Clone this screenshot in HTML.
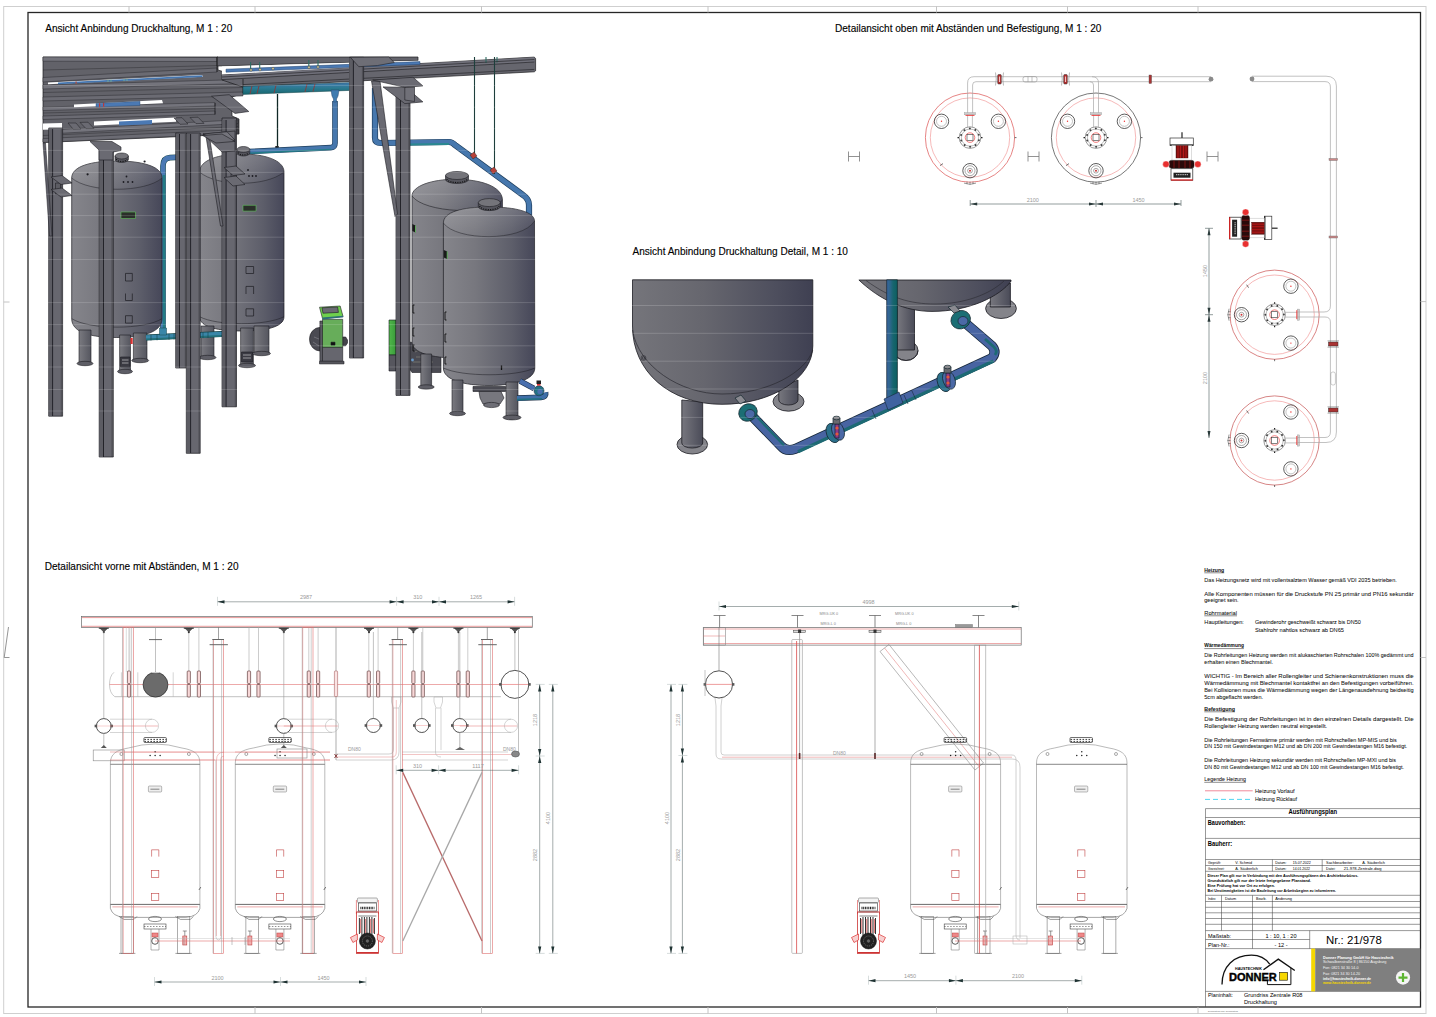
<!DOCTYPE html>
<html><head><meta charset="utf-8"><title>Druckhaltung</title>
<style>
html,body{margin:0;padding:0;background:#fff;}
body{width:1436px;height:1017px;overflow:hidden;font-family:"Liberation Sans",sans-serif;}
svg{position:absolute;left:0;top:0;display:block;}
svg text{font-family:"Liberation Sans",sans-serif;}
</style></head><body>
<svg width="1436" height="1017" viewBox="0 0 1436 1017">
<rect x="0" y="0" width="1436" height="1017" fill="#fff"/>
<!-- 00_defs -->
<defs>
<linearGradient id="gTank" x1="0" y1="0" x2="1" y2="0">
<stop offset="0" stop-color="#85858b"/>
<stop offset="0.35" stop-color="#77777e"/>
<stop offset="0.75" stop-color="#5d5e6a"/>
<stop offset="1" stop-color="#464759"/>
</linearGradient>
<linearGradient id="gTankD" x1="0" y1="0" x2="1" y2="0">
<stop offset="0" stop-color="#75757b"/>
<stop offset="0.4" stop-color="#66666e"/>
<stop offset="0.8" stop-color="#4d4e5d"/>
<stop offset="1" stop-color="#3f4052"/>
</linearGradient>
<linearGradient id="gLeg" x1="0" y1="0" x2="1" y2="0">
<stop offset="0" stop-color="#7a7a80"/>
<stop offset="1" stop-color="#55565f"/>
</linearGradient>
<linearGradient id="gGreen" x1="0" y1="0" x2="1" y2="0">
<stop offset="0" stop-color="#4fb84a"/>
<stop offset="1" stop-color="#3a9a3a"/>
</linearGradient>
</defs>

<!-- 10_frame -->
<g fill="none">
<rect x="3.7" y="6.5" width="1422.3" height="1007" stroke="#cfcfcf" stroke-width="1"/>
<rect x="28" y="12.5" width="1392.5" height="994.5" stroke="#262626" stroke-width="1.3"/>
<g stroke="#bdbdbd" stroke-width="0.9">
<path d="M129,6.5V12.5M255,6.5V12.5M481.5,6.5V12.5M708,6.5V12.5M936.5,6.5V12.5M1067.5,6.5V12.5M1198,6.5V12.5"/>
<path d="M255,1007V1013.5M481.5,1007V1013.5M708,1007V1013.5M936.5,1007V1013.5M1067.5,1007V1013.5M1198,1007V1013.5"/>
<path d="M3.7,302H9.5M1420.5,301.6H1426M1420.5,657.5H1426"/>
<path d="M8.5,627L4.2,657.5H9.5" stroke="#888"/>
</g>
</g>
<g font-size="10" fill="#000" stroke="#000" stroke-width="0.12">
<text x="45.3" y="32.4" textLength="187" lengthAdjust="spacingAndGlyphs">Ansicht Anbindung Druckhaltung, M 1 : 20</text>
<text x="835" y="32.4" textLength="266.3" lengthAdjust="spacingAndGlyphs">Detailansicht oben mit Abständen und Befestigung, M 1 : 20</text>
<text x="632.5" y="254.9" textLength="215.4" lengthAdjust="spacingAndGlyphs">Ansicht Anbindung Druckhaltung Detail, M 1 : 10</text>
<text x="44.7" y="570.2" textLength="193.8" lengthAdjust="spacingAndGlyphs">Detailansicht vorne mit Abständen, M 1 : 20</text>
</g>

<!-- 20_render3d -->
<g id="r3d" stroke-linejoin="round">
<!-- ===== back/top beam structure ===== -->
<g stroke="#1c1c20" stroke-width="0.7">
<!-- left block mass -->
<path fill="#626269" d="M43,57 L218,57 L218,70 L243,78 L244,93 L232,97 L232,116 L239,119 L239,134 L43,142.5 Z"/>
<path fill="#74747c" stroke-width="0.4" d="M43,57 L217,57.5 L217,61.5 L43,61.2 Z M43,85 L243,79.5 L243,83.5 L43,89 Z M43,107 L215,102.6 L215,106 L43,110.5 Z M62,129.4 L238,119.8 L238,123.6 L62,133.2 Z"/>
<path fill="#6b6b73" stroke-width="0.4" d="M43,77.5 L217,68 L217,72 L43,82 Z M43,97 L243,92 L243,96 L43,101 Z M43,116 L215,111 L215,114.3 L43,119.5 Z M43,138.6 L238,129.6 L238,133.4 L43,142.4 Z"/>
<!-- back long beam L -->
<path fill="#64646c" d="M217,57 L418,57 L418,60.5 L217,66 Z"/>
<!-- long beam B -->
<path fill="#66666e" d="M222,74.7 L534.3,57.1 L535.6,58.6 L535.6,70.8 L534.3,71.8 L243,87 L222,80 Z"/>
<path fill="#70707a" stroke="none" d="M222,74.9 L534.3,57.3 L534.3,62 L222,79.5 Z"/>
</g>
<!-- white gap between L and B with pipe -->
<path fill="#fff" d="M222,66.4 L418,60.8 L418,63.6 L222,74.4 Z"/>
<path fill="#4b79b4" stroke="#24446c" stroke-width="0.5" d="M226,72.2 L226,69.2 L420,61.6 L420,64.4 Z"/>
<g stroke="#2f6d64" stroke-width="1.1" fill="none">
<path d="M250.6,62V69M259.7,62V68.6M308.8,60V66.5M318,60V66.1M486,57V63M497,57V62.6"/>
</g>
<g fill="#c9c49a" stroke="#333" stroke-width="0.4"><circle cx="251" cy="70" r="1.3"/><circle cx="260" cy="69.6" r="1.3"/><circle cx="309" cy="67.4" r="1.3"/><circle cx="318" cy="67" r="1.3"/><circle cx="273" cy="68.6" r="1.3"/></g>
<!-- slits in left block -->
<path fill="#fff" d="M48,82.4 L202,74.9 L203,76.8 L48,84.3 Z"/>
<path fill="#4576b0" d="M58,82.6 L202,75.3 L202.6,76.9 L58,84.2 Z"/><path stroke="#7fbf8f" stroke-width="0.7" d="M108,79.6v2.4M111,79.5v2.4M124,78.8v2.4M127,78.6v2.4"/><path fill="#b84a3a" d="M75.5,81.6h1.2v2.2h-1.2z"/>
<path fill="#fff" d="M74,104.4 L162,100.1 L163,103.2 L74,107.2 Z"/>
<path fill="#4b79b4" stroke="#24446c" stroke-width="0.4" d="M96,103.4 L140,101.3 L140,105.4 L96,107Z"/>
<path fill="#b83a3a" d="M99,103.2h1.2v4h-1.2zM103,103h1.2v4h-1.2z"/>
<path fill="#fff" d="M94,121.6 L176,117.6 L176,121.8 L94,125.4 Z"/>
<path fill="#fff" d="M43,123.6 L62,123 L62,129.2 L43,129.8 Z"/>
<path fill="#4b79b4" d="M119,121.6 L152,120 L152,124.2 L119,125.4 Z"/>
<path fill="#6a6a72" stroke="#1c1c20" stroke-width="0.5" d="M68,123 L76,123 L81,129 L73,129Z M80,122.4 L88,122.2 L94,128.5 L86,128.6Z M174,118 L182,117.7 L188,124 L180,124.3Z M190,117.5 L198,117.2 L204,123.4 L196,123.6Z"/>
<!-- beam edge lines in left block -->
<g stroke="#1c1c20" stroke-width="0.6" fill="none">
<path d="M43,70 L217,65.5 M43,92.5 L243,87.5 M43,113 L215,108.5 M43,135.5 L238,126.5" stroke-opacity="0.6"/>
<path d="M217,57 V72 M243,79 V93 M215,103 V114.5 M238,119.5 V133.5" stroke-width="0.8"/>
<path d="M222,77 L534.3,59.5 M222,79.6 L534.3,62 M243,84.6 L534.3,69.4"/>
</g>
<!-- ===== pipes behind tanks ===== -->
<!-- teal horizontal under beam B -->
<defs><linearGradient id="gTealH" x1="0" y1="0" x2="0" y2="1"><stop offset="0" stop-color="#4279ae"/><stop offset="0.45" stop-color="#2c7a92"/><stop offset="1" stop-color="#17676e"/></linearGradient></defs>
<path fill="url(#gTealH)" stroke="#17454a" stroke-width="0.5" d="M243,86.4 L350,82.6 L350,90.4 L243,94.4 Z"/>
<g stroke="#8a3a3a" stroke-width="0.9" fill="none"><path d="M252,86 L250,94 M259,85.8 L257,93.8 M276,85.2 L274,93.2 M307,84 L305,92 M315,83.8 L313,91.6"/></g>
<!-- hanger rod -->
<path d="M277.5,94 V150" stroke="#102826" stroke-width="1.3"/><path d="M275.3,146 h3.4 v6 h-3.4z" fill="#222"/>
<!-- blue pipe from tank2 to vertical -->
<path fill="none" stroke="#1f3f5e" stroke-width="5.6" stroke-linejoin="round" d="M248,151.6 L331,147.6 Q335,147.4 335,143 V101"/>
<path fill="none" stroke="#4677ad" stroke-width="4.3" stroke-linejoin="round" d="M248,151.6 L331,147.6 Q335,147.4 335,143 V101"/>
<path fill="none" stroke="#237c86" stroke-width="1.3" d="M250,153.2 L331,149.3"/>
<path fill="#3f7bb0" stroke="#24446c" stroke-width="0.5" d="M331,90 h8 l-1,6 l-1.5,3 v3 h-3 v-3 l-1.5,-3 z"/>
<!-- teal pipe vertical at tank1 right + top elbow -->
<path fill="none" stroke="#17454a" stroke-width="5.6" d="M163,334 V166 Q163,158 170,157.6 L200,156.3"/>
<path fill="none" stroke="#4b79b4" stroke-width="4.6" d="M163,334 V166 Q163,158 170,157.6 L200,156.3"/>
<path fill="none" stroke="#237c86" stroke-width="2.6" d="M164,334 V175"/>
<!-- right pipe: vertical near col A, horizontal, diagonal -->
<path fill="none" stroke="#1f3f5e" stroke-width="6.2" stroke-linejoin="round" d="M375,88 V138 Q375,143 381,143 L449,142 Q452,142 455,145 L523,195 Q529,199 529,205 V222"/>
<path fill="none" stroke="#4677ad" stroke-width="4.8" stroke-linejoin="round" d="M375,88 V138 Q375,143 381,143 L449,142 Q452,142 455,145 L523,195 Q529,199 529,205 V222"/>
<path fill="none" stroke="#2a8890" stroke-width="2" d="M410,144.5 L449,144"/>
<g stroke="#1d3f3c" stroke-width="1.1"><path d="M474.5,57 V158 M494.5,57 V174"/></g>
<g fill="#b8423a" stroke="#222" stroke-width="0.4"><path d="M470,155 l4,-3 l3,4 l-4,3z M490,170 l4,-3 l3,4 l-4,3z"/></g>
<path fill="#4a4a52" stroke="#1c1c22" stroke-width="0.6" d="M409,342 L436,346 L441,356 L441,372.5 L412,372.5 L409,368 Z"/>
<path fill="none" stroke="#8a8a80" stroke-width="0.6" d="M415,352 q3,-3 6,0 M416,357 h8 M413,362 h20"/>
<circle cx="412.5" cy="360" r="1.4" fill="#6a9ac8"/>
<!-- ===== tank T3 (back right) ===== -->
<g stroke="#1c1c22" stroke-width="0.7">
<path fill="url(#gTank)" d="M412,196 C412,186 432,179.3 455,179.3 C482,179.3 502.4,187 502.4,200 L502.4,342 C502.4,353 482,358 457,358 C432,358 412,353 412,342 Z"/>
<path fill="none" d="M412,196 C424,213 490,216 502.4,200" stroke-width="0.6"/>

<!-- tank T4 (front right) -->
<path fill="url(#gTank)" d="M443.4,223 C443.4,212 462,207 489,207 C516,207 534.5,212 534.5,221 L534.8,368 C534.8,380 514,385.5 489,385.5 C464,385.5 443.4,380 443.4,368 Z"/>
<path fill="none" d="M443.4,223 C456,241 522,242 534.5,221 M443.4,368 C462,377 516,377 534.8,368" stroke-width="0.5"/>

</g>
<g fill="none" stroke="#111" stroke-width="0.9"><path d="M414.5,305 h-1.5 v8 h1.5 M414.5,328 h-1.5 v8 h1.5 M414.5,345 h-1.5 v6 h1.5 M446.5,312 h-1.5 v8 h1.5 M446.5,334 h-1.5 v8 h1.5 M446.5,357 h-1.5 v7 h1.5"/></g>
<path d="M501.5,365.5 v4.5" stroke="#111" stroke-width="1.3" fill="none"/>
<path d="M412.3,224 l3.2,1.5 v7 l-3.2,-1.5z M443.8,250 l3.4,1.5 v7.5 l-3.4,-1.5z" fill="#1a1a1a" stroke="none"/>
<path d="M415.5,225.5 v7 M447.2,251.5 v7.5" stroke="#5fc25a" stroke-width="0.8" fill="none"/>
<!-- ===== tank T2 ===== -->
<g stroke="#1c1c22" stroke-width="0.7">
<path fill="url(#gTank)" d="M199.6,172 C199.6,160 219,154 241.8,154 C264,154 284,160 284,172 L284,316.7 C284,327.5 264,331 241.8,331 C219,331 199.6,327.5 199.6,316.7 Z"/>
<path fill="none" d="M199.6,172 C217,187 266,187 284,172 M199.6,316.7 C217,326 266,326 284,316.7" stroke-width="0.5"/>
<!-- tank T1 -->
<path fill="url(#gTank)" d="M71.7,178 C71.7,166 92,161 116.8,161 C141,161 162,166 162,178 L162,318.6 C162,333 141,337.5 116.8,337.5 C92,337.5 71.7,333 71.7,318.6 Z"/>
<path fill="none" d="M71.7,178 C89,193 145,193 162,178 M71.7,318.6 C89,330 145,330 162,318.6" stroke-width="0.5"/>
</g>
<defs><linearGradient id="gDome" x1="0" y1="0" x2="0" y2="1"><stop offset="0" stop-color="#fff" stop-opacity="0.16"/><stop offset="1" stop-color="#fff" stop-opacity="0.02"/></linearGradient></defs>
<g fill="url(#gDome)">
<path d="M71.7,178 C71.7,166 92,161 116.8,161 C141,161 162,166 162,178 C145,193 89,193 71.7,178 Z"/>
<path d="M199.6,172 C199.6,160 219,154 241.8,154 C264,154 284,160 284,172 C266,187 217,187 199.6,172 Z"/>
<path d="M412,196 C412,186 432,179.3 455,179.3 C482,179.3 502.4,187 502.4,200 C490,216 424,213 412,196 Z"/>
<path d="M443.4,223 C443.4,212 462,207 489,207 C516,207 534.5,212 534.5,221 C522,242 456,241 443.4,223 Z"/>
</g>
<!-- manholes -->
<g fill="#66666e" stroke="#1c1c22" stroke-width="0.6">
<path d="M115.0,156 v3.5 a6.7,3 0 0 0 13.4,0 v-3.5" fill="#55555d"/><ellipse cx="121.7" cy="156" rx="6.7" ry="3" fill="#74747a"/><path d="M116.5,159.0 a5.2,2.5 0 0 0 10.4,0" fill="none" stroke="#111" stroke-width="1.2" stroke-dasharray="1 1.3"/><path d="M237.0,149.5 v3.5 a6.4,3 0 0 0 12.8,0 v-3.5" fill="#55555d"/><ellipse cx="243.4" cy="149.5" rx="6.4" ry="3" fill="#74747a"/><path d="M238.5,152.5 a4.9,2.5 0 0 0 9.8,0" fill="none" stroke="#111" stroke-width="1.2" stroke-dasharray="1 1.3"/><path d="M445.5,175.5 v4 a11.5,4 0 0 0 23.0,0 v-4" fill="#55555d"/><ellipse cx="457" cy="175.5" rx="11.5" ry="4" fill="#74747a"/><path d="M447.0,179.0 a10.0,3.5 0 0 0 20.0,0" fill="none" stroke="#111" stroke-width="1.2" stroke-dasharray="1 1.3"/><path d="M478.3,202.6 v4 a11,4 0 0 0 22,0 v-4" fill="#55555d"/><ellipse cx="489.3" cy="202.6" rx="11" ry="4" fill="#74747a"/><path d="M479.8,206.1 a9.5,3.5 0 0 0 19,0" fill="none" stroke="#111" stroke-width="1.2" stroke-dasharray="1 1.3"/>
</g>
<!-- tank labels & hatches -->
<g fill="#2a2f2a" stroke="#5fc25a" stroke-width="0.6">
<rect x="121" y="212" width="14.5" height="6.5"/><rect x="243" y="205.3" width="13" height="5.8"/>
</g>
<g fill="none" stroke="#1c1c22" stroke-width="0.7">
<rect x="125.5" y="273.4" width="6.8" height="7.6"/><path d="M125.5,293.5 v7 h6.8 v-7"/><rect x="125.5" y="315.7" width="6.8" height="7.4"/>
<rect x="246" y="266.5" width="7.6" height="7"/><path d="M246,294 v-7.6 h7.6 v7.6"/><rect x="246" y="308.8" width="7.6" height="7.2"/>
</g>
<g fill="#1c1c22"><circle cx="123.5" cy="182" r="0.9"/><circle cx="128" cy="182" r="0.9"/><circle cx="132.5" cy="182" r="0.9"/><circle cx="126.5" cy="176.5" r="0.9"/><circle cx="87.6" cy="174.3" r="1.1"/><circle cx="144.6" cy="161.5" r="1.1"/>
<circle cx="249" cy="176" r="0.9"/><circle cx="252.5" cy="176" r="0.9"/><circle cx="256" cy="176" r="0.9"/><circle cx="248" cy="170" r="0.9"/></g>
<!-- ===== tank legs ===== -->
<g stroke="#1c1c22" stroke-width="0.6">
<g fill="url(#gLeg)">
<rect x="79" y="330" width="12" height="33"/><rect x="119.6" y="335" width="10.9" height="36"/><rect x="133.4" y="333" width="13.6" height="27"/>
<rect x="201" y="326" width="13" height="31"/><rect x="240.6" y="328" width="12.8" height="37"/><rect x="254" y="326" width="15" height="27"/>
<rect x="420.8" y="354" width="10.8" height="33"/>
<rect x="452" y="380" width="11" height="33"/><rect x="506" y="382" width="12" height="35"/>
</g>
<g fill="#5e5e66">
<ellipse cx="85" cy="363.5" rx="8" ry="2.2"/><ellipse cx="125" cy="371.5" rx="7.5" ry="2.2"/><ellipse cx="140.2" cy="360.5" rx="8.5" ry="2.2"/>
<ellipse cx="207.5" cy="357.5" rx="8.5" ry="2.2"/><ellipse cx="247" cy="365.5" rx="8.5" ry="2.2"/><ellipse cx="261.5" cy="353.5" rx="9" ry="2.2"/>
<ellipse cx="426.2" cy="387" rx="8" ry="2.2"/><ellipse cx="457.5" cy="413.5" rx="8" ry="2.2"/><ellipse cx="512" cy="417.5" rx="9" ry="2.4"/>
</g>
<path fill="#4a4a52" d="M473,386.5 h32.5 v5 h-32.5z"/><path fill="#77777e" d="M479,391.5 L501,391.5 L504,398 L500,404 L483,404 L480,398 Z"/><ellipse cx="491.5" cy="405" rx="8" ry="2.6" fill="#6e6e76"/>
<path fill="#3a3a42" d="M120.5,357 h9.5 v10 h-9.5z M241.5,352 h11 v10 h-11z"/><path stroke="#ddd" stroke-width="0.6" d="M122,360h6.5M122,363h6.5M243,355h8M243,358h8"/>
</g>
<!-- bottom teal/blue pipes -->
<path fill="none" stroke="#17454a" stroke-width="6" d="M146,337.6 L232,333.6"/>
<path fill="none" stroke="#3a86a8" stroke-width="4.8" d="M146,337.6 L232,333.6"/>
<path fill="none" stroke="#23707a" stroke-width="1.6" d="M146,339.4 L232,335.4"/>
<path fill="none" stroke="#17454a" stroke-width="0.6" d="M151,334.6v6M157,334.4v6M169,333.8v6M174,333.6v6M203,332.2v6M208,332v6"/>
<path fill="#3a86a8" stroke="#17454a" stroke-width="0.5" d="M159.5,328 h7 v7 h-7z"/>
<path fill="none" stroke="#1c2e44" stroke-width="5.6" stroke-linejoin="round" d="M520,381 L534,388.5"/>
<path fill="none" stroke="#4a6fae" stroke-width="4.4" d="M520,381 L534,388.5"/>
<path fill="none" stroke="#1c2e44" stroke-width="5.8" stroke-linejoin="round" d="M517,398.2 L541,397.3 Q546.5,397 545.5,392.5"/>
<path fill="none" stroke="#3f6fa8" stroke-width="4.5" stroke-linejoin="round" d="M517,398.2 L541,397.3 Q546.5,397 545.5,392.5"/>
<path fill="none" stroke="#217080" stroke-width="1.6" d="M517,399.6 L542,398.8"/>
<circle cx="539" cy="390.8" r="5" fill="#237284" stroke="#1c2e44" stroke-width="0.6"/>
<circle cx="540" cy="391.5" r="2.6" fill="#4a6fae"/>
<rect x="536.5" y="380.5" width="4.5" height="3.5" fill="#222"/><rect x="537" y="384" width="3.5" height="1.6" fill="#d33"/>
<rect x="130.5" y="338" width="2.2" height="6" fill="#d33"/>
<!-- ===== pumps ===== -->
<g stroke="#1c1c22" stroke-width="0.6">
<path fill="#4a4a52" d="M320,327.4 A10.5,11.8 0 0 0 320,351 Z"/>
<path fill="none" stroke="#8a8a90" stroke-width="0.6" d="M313,342 l6,4 M314,337 l5,2"/>
<path fill="#44444a" d="M342.7,337 h3 l1.8,3 v3 l-1.8,2.8 h-3z"/>
<path fill="#5a5a62" d="M319.9,321 h2.6 v40.3 h-2.6z"/>
<path fill="#66666e" d="M322.5,347.3 h20.2 v14 h-20.2z"/>
<path fill="#55555c" d="M319.5,361.3 h24.5 v2.6 h-24.5z"/>
<path fill="#67ad5a" d="M322.5,319.3 h20.2 v28 h-20.2z"/>
<path fill="#6fd04e" d="M319.5,307.2 L340.2,306 L343.1,316.7 L322.5,318.6 Z"/>
<path fill="#2d6f78" stroke="none" d="M322.5,317.6 L343.1,315.8 L343.1,317.2 L322.5,319.4 Z"/>
<path fill="#6a6a72" d="M322,307.8 L337.6,307 L338.4,312.4 L323,313.2 Z"/>
<path fill="#111" d="M331,342.2 h4 v2.9 h-4z"/>
<path fill="url(#gGreen)" d="M389,320 h7 v35 h-7z"/>
<path fill="#56565e" d="M389,355 h7 v16 h-7z"/>
</g>
<!-- ===== columns ===== -->
<g stroke="#1c1c22" stroke-width="0.7">
<g fill="#67676f">
<rect x="48.7" y="128" width="13.9" height="288.2"/>
<rect x="99.2" y="150" width="14.1" height="307"/>
<rect x="175.7" y="133" width="10.8" height="235"/>
<rect x="186.3" y="133" width="13.9" height="320.3"/>
<rect x="222" y="118" width="14.5" height="288.8"/>
<rect x="349.5" y="57.3" width="14.1" height="300.7"/>
<rect x="396" y="90" width="14" height="305.4"/>
</g>
<g fill="#5c5c63" stroke="none">
<rect x="49" y="129" width="3.6" height="287"/><rect x="99.5" y="152" width="4" height="305"/><rect x="176" y="134" width="3.5" height="234"/><rect x="186.6" y="134" width="4" height="319"/><rect x="222.3" y="120" width="3.8" height="286.5"/><rect x="349.2" y="58" width="4.2" height="300"/><rect x="396.3" y="92" width="4.2" height="303"/>
</g>
<g fill="none" stroke-width="0.9">
<path d="M52.6,129V416M103.5,152V457M179.5,134V368M190.6,134V453M226.1,120V406.8M353.4,58V358M400.5,92V395"/>
</g>
<g fill="none" stroke-width="0.5" stroke-opacity="0.7">
<path d="M61.3,129V416M112,152V457M185.3,134V368M199,134V453M235.3,120V406.8M362.4,58V358M408.8,92V395"/>
</g>
</g>
<!-- far-left thin diagonal -->
<path fill="#5f5f68" stroke="#1c1c22" stroke-width="0.5" d="M43,143 L45.5,143 L52,236 L49.5,236 Z"/>
<!-- brackets -->
<g fill="#6a6a72" stroke="#1c1c22" stroke-width="0.6">
<path d="M55.5,183 h5 v11 h-5z" fill="#5c5c63"/><path d="M51,177 L62,175.5 L72,183 L61,184.5 Z"/><path d="M51,189.5 L62,188 L72,195.5 L61,197 Z"/>
<path d="M90,141.5 L112,141.5 L121,147 L121,150.5 L113,152 L113,160 L99,160 L99,150 Z"/>
<path d="M206,136.5 L209.5,136.5 L223,226 L220.5,226 Z"/>
<path d="M203,134 L235,131 L235,151 L222,152 Z"/><path d="M203,134 L227,131.8 L235,140 L222,141.5 Z" fill="#74747c"/>
<path d="M231,174 h4 v10 h-4z" fill="#5c5c63"/><path d="M224,167.5 L236,166 L245,174 L233,175.5 Z"/><path d="M224,177.5 L236,176 L245,184.5 L233,186 Z"/>
<path d="M371.5,81 L380,81 L397.5,214 L395,216.5 Z"/>
<path d="M383,86.9 L404.8,87.3 L414.5,94.6 L415.2,95.3 L422.9,101.9 L404.8,103.6 Z"/>
<path d="M404.8,87.3 L414.5,87 L414.5,101.5 L404.8,100 Z" fill="#707078"/>
<path d="M372.7,80 L413,77.3 L422.9,85.9 L404.8,87.3 Z"/>
</g>
<path fill="#6e6e76" stroke="#1c1c22" stroke-width="0.6" d="M350.4,57.3 L388.7,57 L394.3,62.5 L377.6,65.5 L358.8,66.7 Z"/>
<path fill="#6a6a72" stroke="#1c1c22" stroke-width="0.6" d="M211.5,96.2 L229.2,94.7 L248.8,111.5 L235,113.4 Z"/>
<path fill="#6a6a72" stroke="#1c1c22" stroke-width="0.6" d="M202.6,135.5 L222,134 L235,141.4 L216,143 Z"/>
<!-- ===== grid light lines ===== -->
<g stroke="#ffffff" stroke-opacity="0.2" stroke-width="0.8">
<path d="M43,85.5H560M43,107.2H560M43,128.7H560M43,150.4H560M43,172.4H560M43,194.2H560M43,215.6H560M43,237.2H560M43,259.5H560M43,302.6H560M43,324.6H560M43,345.8H560M43,367H560M43,389.5H560M43,411H560"/>
</g>
</g>

<!-- 30_detail3d -->
<g id="d3d" stroke-linejoin="round">
<defs>
<linearGradient id="gPipeV" x1="0" y1="0" x2="1" y2="0"><stop offset="0" stop-color="#3a64a0"/><stop offset="0.35" stop-color="#2a6688"/><stop offset="0.6" stop-color="#17656e"/><stop offset="1" stop-color="#0d5f60"/></linearGradient>
<linearGradient id="gLegD" x1="0" y1="0" x2="1" y2="0"><stop offset="0" stop-color="#77777e"/><stop offset="1" stop-color="#4a4b58"/></linearGradient>
</defs>
<!-- right tank legs (behind) -->
<g stroke="#1c1c22" stroke-width="0.8">
<ellipse cx="1001" cy="308.5" rx="15.4" ry="10" fill="#84848a"/>
<rect x="990.3" y="283" width="20.1" height="24" fill="url(#gLegD)"/>
<ellipse cx="906" cy="350.5" rx="12" ry="10" fill="#84848a"/>
<rect x="897.4" y="300" width="17.1" height="50" fill="url(#gLegD)"/>
<path d="M894,350.5 A12,10 0 0 0 918,350.5" fill="none"/>
</g>
<!-- right tank bottom -->
<path fill="url(#gTankD)" stroke="#1c1c22" stroke-width="0.8" d="M858.9,280 H1011 V281.2 C1000,296 970,311.4 932,311.4 C905,311.4 880,300 858.9,280 Z"/>
<path fill="none" stroke="#2a2a30" stroke-width="0.6" d="M866,280.5 C890,298 910,304 935,304 C965,304 990,294 1004,281"/>
<!-- left tank legs -->
<g stroke="#1c1c22" stroke-width="0.8">
<ellipse cx="788.5" cy="401.5" rx="15.5" ry="9.7" fill="#84848a"/>
<path d="M778.8,388 V400 A9.6,5 0 0 0 798,400 V380 Z" fill="url(#gLegD)"/>
<ellipse cx="692.3" cy="444.5" rx="15.3" ry="9.5" fill="#84848a"/>
<path d="M681.8,400 V443 A10.45,5 0 0 0 702.7,443 V402 Z" fill="url(#gLegD)"/>
</g>
<!-- left tank -->
<path fill="url(#gTankD)" stroke="#1c1c22" stroke-width="0.8" d="M632.5,279.8 H812.8 V346 C812.8,378 772,404.3 722,404.3 C670,404.3 632.5,372 632.5,326 Z"/>
<path fill="none" stroke="#2a2a30" stroke-width="0.7" d="M632.5,330 C638,366 680,394 722,394 C768,394 806,372 812.8,350"/>
<g fill="none" stroke="#2a2a30" stroke-width="0.6"><circle cx="643.5" cy="358" r="2.4"/><circle cx="643.5" cy="358" r="1.2"/></g>
<!-- vertical pipe -->
<rect x="886.7" y="279.8" width="10.7" height="126" fill="url(#gPipeV)" stroke="#14262e" stroke-width="0.7"/>
<!-- pipe run -->
<g fill="none" stroke-linecap="butt">
<path d="M750,414 L781,446 Q786,452 795,449 L992,358 Q997,352 992,346 L963,321" stroke="#16283a" stroke-width="10"/>
<path d="M750,414 L781,446 Q786,452 795,449 L992,358 Q997,352 992,346 L963,321" stroke="#4864a2" stroke-width="8.4"/>
<path d="M798,451.8 L993.5,361" stroke="#1d6a74" stroke-width="3.4"/>
<path d="M995,355 Q998,351 994,347 L985,339" stroke="#1d6a74" stroke-width="2.8"/>
<path d="M756,416 L784,445.5" stroke="#1d6a74" stroke-width="2.2"/>
</g>
<!-- tee at vertical pipe -->
<path fill="#3f62a0" stroke="#16283a" stroke-width="0.6" d="M884,399 L899,392 L903,403 L888,410 Z"/>
<g stroke="#16283a" stroke-width="0.6" fill="none"><path d="M872,410 L876,419 M904,395 L908,404 M912,391 L916,400"/></g>
<!-- flanges -->
<g stroke="#14262e" stroke-width="0.7">
<ellipse cx="748" cy="412.5" rx="9.5" ry="8.5" fill="#1b6e74" transform="rotate(-30 748 412.5)"/>
<ellipse cx="750" cy="414" rx="5" ry="4.5" fill="#4b69a6"/>
<path d="M740,404 l-5,-6 l6,-3 l5,6z" fill="#8a8a90"/>
<ellipse cx="960.7" cy="319.7" rx="10" ry="9" fill="#1b6e74" transform="rotate(-30 960.7 319.7)"/>
<ellipse cx="963" cy="321" rx="5" ry="4.5" fill="#4b69a6"/>
<path d="M954,313 l-6,-6 l7,-2 l5,6z" fill="#8a8a90"/>
</g>
<!-- valves -->
<g stroke="#14262e" stroke-width="0.7">
<ellipse cx="833" cy="433" rx="6.5" ry="10" fill="#2a6f8a" transform="rotate(-20 833 433)"/>
<ellipse cx="838" cy="431" rx="6" ry="9.5" fill="#4b69a6" transform="rotate(-20 838 431)"/>
<rect x="835" y="424" width="4" height="14" fill="#8a3a8a"/>
<circle cx="837" cy="428" r="1.6" fill="#e05a3a" stroke="none"/><circle cx="837" cy="434" r="1.6" fill="#e05a3a" stroke="none"/>
<rect x="833" y="418" width="7" height="6" fill="#6a6a70"/><ellipse cx="836.5" cy="418" rx="3.5" ry="1.8" fill="#8a8a8e"/>
<ellipse cx="944" cy="382" rx="6.5" ry="10" fill="#2a6f8a" transform="rotate(-20 944 382)"/>
<ellipse cx="949" cy="380" rx="6" ry="9.5" fill="#4b69a6" transform="rotate(-20 949 380)"/>
<rect x="946" y="373" width="4" height="14" fill="#8a3a8a"/>
<circle cx="948" cy="377" r="1.6" fill="#e05a3a" stroke="none"/><circle cx="948" cy="383" r="1.6" fill="#e05a3a" stroke="none"/>
<rect x="944" y="367" width="7" height="6" fill="#6a6a70"/><ellipse cx="947.5" cy="367" rx="3.5" ry="1.8" fill="#8a8a8e"/>
</g>
<!-- grid lines -->
<g stroke="#ffffff" stroke-opacity="0.22" stroke-width="0.8">
<path d="M632,305.5H1015M632,333.3H1015M632,361.2H1015M632,389H1015M632,417.4H1015M632,445.3H1015"/>
</g>
</g>

<!-- 40_plan -->
<g id="plan">
<g transform="translate(970 137.6) rotate(0)" fill="none">
<circle r="44.6" stroke="#e06464" stroke-width="0.8"/>
<circle r="39.7" stroke="#f08a8a" stroke-width="0.6"/>
<circle cx="-28.5" cy="-16.3" r="7.2" stroke="#333" stroke-width="0.8"/>
<circle cx="-28.5" cy="-16.3" r="5" stroke="#888" stroke-width="0.5"/>
<circle cx="-28.5" cy="-16.3" r="0.7" fill="#e33" stroke="none"/>
<circle cx="28.4" cy="-16.3" r="7.2" stroke="#333" stroke-width="0.8"/>
<circle cx="28.4" cy="-16.3" r="5" stroke="#888" stroke-width="0.5"/>
<circle cx="28.4" cy="-16.3" r="0.7" fill="#e33" stroke="none"/>
<circle r="10.8" stroke="#555" stroke-width="0.6"/>
<circle cx="8.79" cy="2.72" r="1" fill="#333" stroke="none"/>
<circle cx="5.51" cy="7.37" r="1" fill="#333" stroke="none"/>
<circle cx="0.13" cy="9.20" r="1" fill="#333" stroke="none"/>
<circle cx="-5.30" cy="7.52" r="1" fill="#333" stroke="none"/>
<circle cx="-8.71" cy="2.97" r="1" fill="#333" stroke="none"/>
<circle cx="-8.79" cy="-2.72" r="1" fill="#333" stroke="none"/>
<circle cx="-5.51" cy="-7.37" r="1" fill="#333" stroke="none"/>
<circle cx="-0.13" cy="-9.20" r="1" fill="#333" stroke="none"/>
<circle cx="5.30" cy="-7.52" r="1" fill="#333" stroke="none"/>
<circle cx="8.71" cy="-2.97" r="1" fill="#333" stroke="none"/>
<circle r="8.6" stroke="#777" stroke-width="0.5"/>
<circle r="4.8" stroke="#e44" stroke-width="0.7"/>
<rect x="-3" y="-3" width="6" height="6" stroke="#333" stroke-width="0.6"/>
<path d="M-12.5,0h1.5M11,0h1.5" stroke="#222" stroke-width="1.2"/>
<path d="M-2.4,-10.5V-23.6M2.4,-10.5V-23.6" stroke="#999" stroke-width="0.6"/>
<rect x="-5.6" y="-25" width="11.2" height="2.2" fill="#ccc" stroke="#999" stroke-width="0.4"/>
<path d="M-4.5,-22.2H4.5" stroke="#e33" stroke-width="0.9"/>
<circle cy="33.1" r="7.2" stroke="#333" stroke-width="0.8"/>
<circle cy="33.1" r="5" stroke="#555" stroke-width="0.5"/>
<circle cy="33.1" r="2.4" stroke="#555" stroke-width="0.5"/>
<circle cy="33.1" r="1" fill="#c33" stroke="none"/>
<path d="M-6,45.5 Q0,48 6,45.5 M-3,44v2.5M0,44v3M3,44v2.5" stroke="#555" stroke-width="0.6"/>
<path d="M-27,26 l-3,2 M44.5,0 h2" stroke="#333" stroke-width="0.7"/>
</g>
<g transform="translate(1096 137.6) rotate(0)" fill="none">
<circle r="44.6" stroke="#555" stroke-width="0.8"/>
<circle r="39.7" stroke="#f08a8a" stroke-width="0.6"/>
<circle cx="-28.5" cy="-16.3" r="7.2" stroke="#333" stroke-width="0.8"/>
<circle cx="-28.5" cy="-16.3" r="5" stroke="#888" stroke-width="0.5"/>
<circle cx="-28.5" cy="-16.3" r="0.7" fill="#e33" stroke="none"/>
<circle cx="28.4" cy="-16.3" r="7.2" stroke="#333" stroke-width="0.8"/>
<circle cx="28.4" cy="-16.3" r="5" stroke="#888" stroke-width="0.5"/>
<circle cx="28.4" cy="-16.3" r="0.7" fill="#e33" stroke="none"/>
<circle r="10.8" stroke="#555" stroke-width="0.6"/>
<circle cx="8.79" cy="2.72" r="1" fill="#333" stroke="none"/>
<circle cx="5.51" cy="7.37" r="1" fill="#333" stroke="none"/>
<circle cx="0.13" cy="9.20" r="1" fill="#333" stroke="none"/>
<circle cx="-5.30" cy="7.52" r="1" fill="#333" stroke="none"/>
<circle cx="-8.71" cy="2.97" r="1" fill="#333" stroke="none"/>
<circle cx="-8.79" cy="-2.72" r="1" fill="#333" stroke="none"/>
<circle cx="-5.51" cy="-7.37" r="1" fill="#333" stroke="none"/>
<circle cx="-0.13" cy="-9.20" r="1" fill="#333" stroke="none"/>
<circle cx="5.30" cy="-7.52" r="1" fill="#333" stroke="none"/>
<circle cx="8.71" cy="-2.97" r="1" fill="#333" stroke="none"/>
<circle r="8.6" stroke="#777" stroke-width="0.5"/>
<circle r="4.8" stroke="#e44" stroke-width="0.7"/>
<rect x="-3" y="-3" width="6" height="6" stroke="#333" stroke-width="0.6"/>
<path d="M-12.5,0h1.5M11,0h1.5" stroke="#222" stroke-width="1.2"/>
<path d="M-2.4,-10.5V-23.6M2.4,-10.5V-23.6" stroke="#999" stroke-width="0.6"/>
<rect x="-5.6" y="-25" width="11.2" height="2.2" fill="#ccc" stroke="#999" stroke-width="0.4"/>
<path d="M-4.5,-22.2H4.5" stroke="#e33" stroke-width="0.9"/>
<circle cy="33.1" r="7.2" stroke="#333" stroke-width="0.8"/>
<circle cy="33.1" r="5" stroke="#555" stroke-width="0.5"/>
<circle cy="33.1" r="2.4" stroke="#555" stroke-width="0.5"/>
<circle cy="33.1" r="1" fill="#c33" stroke="none"/>
<path d="M-6,45.5 Q0,48 6,45.5 M-3,44v2.5M0,44v3M3,44v2.5" stroke="#555" stroke-width="0.6"/>
<path d="M-27,26 l-3,2 M44.5,0 h2" stroke="#333" stroke-width="0.7"/>
</g>
<g transform="translate(1274.6 314.7) rotate(90)" fill="none">
<circle r="44.6" stroke="#d06464" stroke-width="0.8"/>
<circle r="39.7" stroke="#f08a8a" stroke-width="0.6"/>
<circle cx="-28.5" cy="-16.3" r="7.2" stroke="#333" stroke-width="0.8"/>
<circle cx="-28.5" cy="-16.3" r="5" stroke="#888" stroke-width="0.5"/>
<circle cx="-28.5" cy="-16.3" r="0.7" fill="#e33" stroke="none"/>
<circle cx="28.4" cy="-16.3" r="7.2" stroke="#333" stroke-width="0.8"/>
<circle cx="28.4" cy="-16.3" r="5" stroke="#888" stroke-width="0.5"/>
<circle cx="28.4" cy="-16.3" r="0.7" fill="#e33" stroke="none"/>
<circle r="10.8" stroke="#555" stroke-width="0.6"/>
<circle cx="8.79" cy="2.72" r="1" fill="#333" stroke="none"/>
<circle cx="5.51" cy="7.37" r="1" fill="#333" stroke="none"/>
<circle cx="0.13" cy="9.20" r="1" fill="#333" stroke="none"/>
<circle cx="-5.30" cy="7.52" r="1" fill="#333" stroke="none"/>
<circle cx="-8.71" cy="2.97" r="1" fill="#333" stroke="none"/>
<circle cx="-8.79" cy="-2.72" r="1" fill="#333" stroke="none"/>
<circle cx="-5.51" cy="-7.37" r="1" fill="#333" stroke="none"/>
<circle cx="-0.13" cy="-9.20" r="1" fill="#333" stroke="none"/>
<circle cx="5.30" cy="-7.52" r="1" fill="#333" stroke="none"/>
<circle cx="8.71" cy="-2.97" r="1" fill="#333" stroke="none"/>
<circle r="8.6" stroke="#777" stroke-width="0.5"/>
<circle r="4.8" stroke="#e44" stroke-width="0.7"/>
<rect x="-3" y="-3" width="6" height="6" stroke="#333" stroke-width="0.6"/>
<path d="M-12.5,0h1.5M11,0h1.5" stroke="#222" stroke-width="1.2"/>
<path d="M-2.4,-10.5V-23.6M2.4,-10.5V-23.6" stroke="#999" stroke-width="0.6"/>
<rect x="-5.6" y="-25" width="11.2" height="2.2" fill="#ccc" stroke="#999" stroke-width="0.4"/>
<path d="M-4.5,-22.2H4.5" stroke="#e33" stroke-width="0.9"/>
<circle cy="33.1" r="7.2" stroke="#333" stroke-width="0.8"/>
<circle cy="33.1" r="5" stroke="#555" stroke-width="0.5"/>
<circle cy="33.1" r="2.4" stroke="#555" stroke-width="0.5"/>
<circle cy="33.1" r="1" fill="#c33" stroke="none"/>
<path d="M-6,45.5 Q0,48 6,45.5 M-3,44v2.5M0,44v3M3,44v2.5" stroke="#555" stroke-width="0.6"/>
<path d="M-27,26 l-3,2 M44.5,0 h2" stroke="#333" stroke-width="0.7"/>
</g>
<g transform="translate(1274.6 440.5) rotate(90)" fill="none">
<circle r="44.6" stroke="#c66" stroke-width="0.8"/>
<circle r="39.7" stroke="#f08a8a" stroke-width="0.6"/>
<circle cx="-28.5" cy="-16.3" r="7.2" stroke="#333" stroke-width="0.8"/>
<circle cx="-28.5" cy="-16.3" r="5" stroke="#888" stroke-width="0.5"/>
<circle cx="-28.5" cy="-16.3" r="0.7" fill="#e33" stroke="none"/>
<circle cx="28.4" cy="-16.3" r="7.2" stroke="#333" stroke-width="0.8"/>
<circle cx="28.4" cy="-16.3" r="5" stroke="#888" stroke-width="0.5"/>
<circle cx="28.4" cy="-16.3" r="0.7" fill="#e33" stroke="none"/>
<circle r="10.8" stroke="#555" stroke-width="0.6"/>
<circle cx="8.79" cy="2.72" r="1" fill="#333" stroke="none"/>
<circle cx="5.51" cy="7.37" r="1" fill="#333" stroke="none"/>
<circle cx="0.13" cy="9.20" r="1" fill="#333" stroke="none"/>
<circle cx="-5.30" cy="7.52" r="1" fill="#333" stroke="none"/>
<circle cx="-8.71" cy="2.97" r="1" fill="#333" stroke="none"/>
<circle cx="-8.79" cy="-2.72" r="1" fill="#333" stroke="none"/>
<circle cx="-5.51" cy="-7.37" r="1" fill="#333" stroke="none"/>
<circle cx="-0.13" cy="-9.20" r="1" fill="#333" stroke="none"/>
<circle cx="5.30" cy="-7.52" r="1" fill="#333" stroke="none"/>
<circle cx="8.71" cy="-2.97" r="1" fill="#333" stroke="none"/>
<circle r="8.6" stroke="#777" stroke-width="0.5"/>
<circle r="4.8" stroke="#e44" stroke-width="0.7"/>
<rect x="-3" y="-3" width="6" height="6" stroke="#333" stroke-width="0.6"/>
<path d="M-12.5,0h1.5M11,0h1.5" stroke="#222" stroke-width="1.2"/>
<path d="M-2.4,-10.5V-23.6M2.4,-10.5V-23.6" stroke="#999" stroke-width="0.6"/>
<rect x="-5.6" y="-25" width="11.2" height="2.2" fill="#ccc" stroke="#999" stroke-width="0.4"/>
<path d="M-4.5,-22.2H4.5" stroke="#e33" stroke-width="0.9"/>
<circle cy="33.1" r="7.2" stroke="#333" stroke-width="0.8"/>
<circle cy="33.1" r="5" stroke="#555" stroke-width="0.5"/>
<circle cy="33.1" r="2.4" stroke="#555" stroke-width="0.5"/>
<circle cy="33.1" r="1" fill="#c33" stroke="none"/>
<path d="M-6,45.5 Q0,48 6,45.5 M-3,44v2.5M0,44v3M3,44v2.5" stroke="#555" stroke-width="0.6"/>
<path d="M-27,26 l-3,2 M44.5,0 h2" stroke="#333" stroke-width="0.7"/>
</g>
<g fill="none" stroke="#a8a8a8" stroke-width="0.7">
<path d="M967.6,113 V83 Q967.6,76.7 974,76.7 H1211"/>
<path d="M972.6,113 V85 Q972.6,81.7 976,81.7 H1211"/>
<path d="M1093.5,113 V85 Q1093.5,81.7 1090,81.7"/>
<path d="M1098.5,113 V83 Q1098.5,76.7 1092,76.7"/>
<path d="M1252,76.2 H1326 Q1336.4,76.2 1336.4,86 V432 Q1336.4,442.5 1326,442.5 H1298"/>
<path d="M1252,81.6 H1325 Q1330.4,81.6 1330.4,87 V306 Q1330.4,312 1324,312 H1298"/>
<path d="M1298,317 H1325 Q1330.4,317 1330.4,322 V432 Q1330.4,437.5 1325,437.5 H1298"/>
</g>
<g fill="#8a8a8a"><circle cx="1211" cy="79.2" r="2.4"/><circle cx="1252" cy="79" r="2.4"/></g>
<g stroke="#333" stroke-width="0.5">
<rect x="997.7" y="74.5" width="3.6" height="9.5" rx="1" fill="#b02a2a" stroke="#333" stroke-width="0.5"/>
<path d="M998.9,76.5h1.2v5.5h-1.2z" fill="#f4c0c0" stroke="none"/>
<path d="M995.5,72.5 Q997.0,79 995.5,85.5 M1003.5,72.5 Q1002.0,79 1003.5,85.5" fill="none" stroke="#888" stroke-width="0.6"/>
<rect x="1063.7" y="74.5" width="3.6" height="9.5" rx="1" fill="#b02a2a" stroke="#333" stroke-width="0.5"/>
<path d="M1064.9,76.5h1.2v5.5h-1.2z" fill="#f4c0c0" stroke="none"/>
<path d="M1061.5,72.5 Q1063.0,79 1061.5,85.5 M1069.5,72.5 Q1068.0,79 1069.5,85.5" fill="none" stroke="#888" stroke-width="0.6"/>
<rect x="1149" y="75" width="2.6" height="8.5" fill="#a33" stroke="#555" stroke-width="0.4"/>
<rect x="1329" y="158.5" width="8.5" height="2" fill="#c88" stroke="#666" stroke-width="0.4"/>
<rect x="1329" y="236" width="8.5" height="2" fill="#c88" stroke="#666" stroke-width="0.4"/>
<rect x="1328.5" y="342" width="9.5" height="4" fill="#a33"/>
<path d="M1327.5,340.8h11.5M1327.5,347.2h11.5" stroke="#666" stroke-width="0.5"/>
<rect x="1328.5" y="408" width="9.5" height="4" fill="#a33"/>
<path d="M1327.5,406.8h11.5M1327.5,413.2h11.5" stroke="#666" stroke-width="0.5"/>
<rect x="1330.8" y="372" width="4.6" height="13" rx="2" fill="none" stroke="#999" stroke-width="0.5"/>
</g>
<g fill="none" stroke="#999" stroke-width="0.6"><rect x="1023" y="76.5" width="14" height="5.5" rx="2"/><path d="M1028,76.5v5.5M1032,76.5v5.5"/></g>
<path d="M848.5,151.5v10M859.5,151.5v10M848.5,156.5h11" stroke="#777" stroke-width="0.8" fill="none"/>
<path d="M1028,151.5v10M1039,151.5v10M1028,156.5h11" stroke="#777" stroke-width="0.8" fill="none"/>
<path d="M1207,151.5v10M1218,151.5v10M1207,156.5h11" stroke="#777" stroke-width="0.8" fill="none"/>
<g transform="translate(1182 164.2) rotate(0)">
<path d="M0,-32V-26.2" stroke="#222" stroke-width="1.2"/>
<rect x="-12" y="-26.2" width="23.3" height="7.4" fill="#fff" stroke="#333" stroke-width="0.7"/>
<path d="M-12,-19.2H11.3" stroke="#222" stroke-width="1.3"/>
<rect x="-10" y="-18.6" width="19.6" height="14.6" fill="#fff" stroke="#bbb" stroke-width="0.5"/>
<rect x="-6" y="-18.6" width="12" height="12.4" fill="#7a1010" stroke="#300" stroke-width="0.4"/>
<path d="M-4,-18.6v12.4M-1.5,-18.6v12.4M1.5,-18.6v12.4M4,-18.6v12.4" stroke="#e22" stroke-width="0.5"/>
<rect x="-12.8" y="-3.8" width="24.8" height="7.6" rx="2" fill="#2a0a0a" stroke="#111" stroke-width="0.5"/>
<path d="M-8,-3.8v7.6M-3,-3.8v7.6M3,-3.8v7.6M8,-3.8v7.6" stroke="#c22" stroke-width="0.5"/>
<circle cx="-16" cy="0" r="3.3" fill="#e83030" stroke="#fff" stroke-width="0.4"/><circle cx="15.8" cy="0" r="3.3" fill="#e83030" stroke="#fff" stroke-width="0.4"/>
<rect x="-11" y="4.5" width="21.8" height="11.5" fill="#fff" stroke="#222" stroke-width="0.7"/>
<path d="M-11,15.8H10.8" stroke="#e11" stroke-width="1.1"/>
<rect x="-8.5" y="8.5" width="17" height="5" fill="#222"/>
<path d="M-6,10.5h12" stroke="#fff" stroke-width="0.8" stroke-dasharray="1.2 0.6"/>
</g>
<g transform="translate(1245.6 228.2) rotate(90)">
<path d="M0,-32V-26.2" stroke="#222" stroke-width="1.2"/>
<rect x="-12" y="-26.2" width="23.3" height="7.4" fill="#fff" stroke="#333" stroke-width="0.7"/>
<path d="M-12,-19.2H11.3" stroke="#222" stroke-width="1.3"/>
<rect x="-10" y="-18.6" width="19.6" height="14.6" fill="#fff" stroke="#bbb" stroke-width="0.5"/>
<rect x="-6" y="-18.6" width="12" height="12.4" fill="#7a1010" stroke="#300" stroke-width="0.4"/>
<path d="M-4,-18.6v12.4M-1.5,-18.6v12.4M1.5,-18.6v12.4M4,-18.6v12.4" stroke="#e22" stroke-width="0.5"/>
<rect x="-12.8" y="-3.8" width="24.8" height="7.6" rx="2" fill="#2a0a0a" stroke="#111" stroke-width="0.5"/>
<path d="M-8,-3.8v7.6M-3,-3.8v7.6M3,-3.8v7.6M8,-3.8v7.6" stroke="#c22" stroke-width="0.5"/>
<circle cx="-16" cy="0" r="3.3" fill="#e83030" stroke="#fff" stroke-width="0.4"/><circle cx="15.8" cy="0" r="3.3" fill="#e83030" stroke="#fff" stroke-width="0.4"/>
<rect x="-11" y="4.5" width="21.8" height="11.5" fill="#fff" stroke="#222" stroke-width="0.7"/>
<path d="M-11,15.8H10.8" stroke="#e11" stroke-width="1.1"/>
<rect x="-8.5" y="8.5" width="17" height="5" fill="#222"/>
<path d="M-6,10.5h12" stroke="#fff" stroke-width="0.8" stroke-dasharray="1.2 0.6"/>
</g>
<g stroke="#4a5a5a" stroke-width="0.6" fill="none">
<path d="M970.2,204 H1181 M970.2,200 V206 M1096,200 V207 M1181,200 V206"/>
<path d="M1209,228.3 V438 M1205,228.3 H1213 M1205,314.7 H1213"/>
</g>
<g fill="#2a3a3a">
<path d="M970.2,204 l7,-1.5 v3z M1096,204 l-7,-1.5 v3z M1096,204 l7,-1.5 v3z M1181,204 l-7,-1.5 v3z"/>
<path d="M1209,228.3 l-1.5,7 h3z M1209,314.7 l-1.5,-7 h3z M1209,314.7 l-1.5,7 h3z M1209,438 l-1.5,-7 h3z"/>
</g>
<g fill="#999" font-size="5.5">
<text x="1032.8" y="201.5" text-anchor="middle">2100</text>
<text x="1138.5" y="201.5" text-anchor="middle">1450</text>
<text transform="translate(1206.5 271) rotate(-90)" text-anchor="middle">1450</text>
<text transform="translate(1206.5 378) rotate(-90)" text-anchor="middle">2100</text>
</g>
</g>
<!-- 50_elev1 -->
<g id="elev1" fill="none">
<rect x="81.5" y="616.5" width="450.8" height="10.9" fill="#fff" stroke="#6a6a6a" stroke-width="0.7"/>
<path d="M82,617.6L532,617.6" stroke="#e07070" stroke-width="0.7"/>
<path d="M82,626.3L532,626.3" stroke="#e07070" stroke-width="0.7"/>
<path d="M217.5,601.8H514.6" stroke="#4a5a5a" stroke-width="0.5"/>
<path d="M217.5,596.8V605.8" stroke="#9aa" stroke-width="0.4"/>
<path d="M514.6,596.8V605.8" stroke="#9aa" stroke-width="0.4"/>
<path d="M396.6,596.8V605.8" stroke="#9aa" stroke-width="0.4"/>
<path d="M439,596.8V605.8" stroke="#9aa" stroke-width="0.4"/>
<path d="M217.5,601.8l7,-1.6v3.2zM396.6,601.8l-7,-1.6v3.2z" fill="#1e3232"/>
<path d="M396.6,601.8l7,-1.6v3.2zM439,601.8l-7,-1.6v3.2z" fill="#1e3232"/>
<path d="M439,601.8l7,-1.6v3.2zM514.6,601.8l-7,-1.6v3.2z" fill="#1e3232"/>
<text x="306" y="599.3" font-size="5.5" fill="#999" text-anchor="middle">2987</text>
<text x="417.8" y="599.3" font-size="5.5" fill="#999" text-anchor="middle">310</text>
<text x="476" y="599.3" font-size="5.5" fill="#999" text-anchor="middle">1265</text>
<path d="M114,672.3 Q109.5,676 109.5,684.5 Q109.5,693 114.8,696.7" stroke="#aaa" stroke-width="0.6"/>
<path d="M114.8,696.7L500.9,696.7" stroke="#999" stroke-width="0.6"/>
<path d="M109.5,684.5L528.9,684.5" stroke="#e07070" stroke-width="0.6"/>
<path d="M121.4,672.3L121.4,696.7" stroke="#aaa" stroke-width="0.5"/>
<path d="M137.8,672.3L137.8,696.7" stroke="#aaa" stroke-width="0.5"/>
<path d="M173.2,672.3L173.2,696.7" stroke="#aaa" stroke-width="0.5"/>
<path d="M468,672.3L468,696.7" stroke="#aaa" stroke-width="0.5"/>
<circle cx="155.5" cy="684.7" r="12.4" fill="#6b6b6b" stroke="#333" stroke-width="0.8"/>
<path d="M155.5,627.4L155.5,672.3" stroke="#999" stroke-width="0.6"/>
<path d="M149,639.6h13" stroke="#555" stroke-width="0.9"/>
<path d="M152,672.5h7" stroke="#ccc" stroke-width="1"/>
<circle cx="514.9" cy="684.4" r="14" fill="none" stroke="#333" stroke-width="0.85"/><rect x="499.09999999999997" y="683.1" width="2.6" height="2.6" fill="#555"/><rect x="528.1" y="683.1" width="2.6" height="2.6" fill="#555"/><path d="M501.9,684.4H527.9" stroke="#f2a0a0" stroke-width="0.5"/>
<path d="M514.9,627.4L514.9,670.4" stroke="#999" stroke-width="0.6"/>
<path d="M518.5,627.4L518.5,752" stroke="#999" stroke-width="0.6"/>
<path d="M129,627.4L129,671" stroke="#aaa" stroke-width="0.6"/>
<rect x="127.4" y="671" width="3.2" height="12.5" rx="0.8" fill="#f8d8d8" stroke="#5a3535" stroke-width="0.65"/>
<rect x="127.4" y="684.5" width="3.2" height="12.5" rx="0.8" fill="#f8d8d8" stroke="#5a3535" stroke-width="0.65"/>
<path d="M188.8,627.4L188.8,671" stroke="#aaa" stroke-width="0.6"/>
<rect x="187.20000000000002" y="671" width="3.2" height="12.5" rx="0.8" fill="#f8d8d8" stroke="#5a3535" stroke-width="0.65"/>
<rect x="187.20000000000002" y="684.5" width="3.2" height="12.5" rx="0.8" fill="#f8d8d8" stroke="#5a3535" stroke-width="0.65"/>
<path d="M198.9,627.4L198.9,671" stroke="#aaa" stroke-width="0.6"/>
<rect x="197.3" y="671" width="3.2" height="12.5" rx="0.8" fill="#f8d8d8" stroke="#5a3535" stroke-width="0.65"/>
<rect x="197.3" y="684.5" width="3.2" height="12.5" rx="0.8" fill="#f8d8d8" stroke="#5a3535" stroke-width="0.65"/>
<path d="M249,627.4L249,671" stroke="#aaa" stroke-width="0.6"/>
<rect x="247.4" y="671" width="3.2" height="12.5" rx="0.8" fill="#f8d8d8" stroke="#5a3535" stroke-width="0.65"/>
<rect x="247.4" y="684.5" width="3.2" height="12.5" rx="0.8" fill="#f8d8d8" stroke="#5a3535" stroke-width="0.65"/>
<path d="M258.5,627.4L258.5,671" stroke="#aaa" stroke-width="0.6"/>
<rect x="256.9" y="671" width="3.2" height="12.5" rx="0.8" fill="#f8d8d8" stroke="#5a3535" stroke-width="0.65"/>
<rect x="256.9" y="684.5" width="3.2" height="12.5" rx="0.8" fill="#f8d8d8" stroke="#5a3535" stroke-width="0.65"/>
<path d="M308.8,627.4L308.8,671" stroke="#aaa" stroke-width="0.6"/>
<rect x="307.2" y="671" width="3.2" height="12.5" rx="0.8" fill="#f8d8d8" stroke="#5a3535" stroke-width="0.65"/>
<rect x="307.2" y="684.5" width="3.2" height="12.5" rx="0.8" fill="#f8d8d8" stroke="#5a3535" stroke-width="0.65"/>
<path d="M318.1,627.4L318.1,671" stroke="#aaa" stroke-width="0.6"/>
<rect x="316.5" y="671" width="3.2" height="12.5" rx="0.8" fill="#f8d8d8" stroke="#5a3535" stroke-width="0.65"/>
<rect x="316.5" y="684.5" width="3.2" height="12.5" rx="0.8" fill="#f8d8d8" stroke="#5a3535" stroke-width="0.65"/>
<path d="M368.8,627.4L368.8,671" stroke="#aaa" stroke-width="0.6"/>
<rect x="367.2" y="671" width="3.2" height="12.5" rx="0.8" fill="#f8d8d8" stroke="#5a3535" stroke-width="0.65"/>
<rect x="367.2" y="684.5" width="3.2" height="12.5" rx="0.8" fill="#f8d8d8" stroke="#5a3535" stroke-width="0.65"/>
<path d="M378.1,627.4L378.1,671" stroke="#aaa" stroke-width="0.6"/>
<rect x="376.5" y="671" width="3.2" height="12.5" rx="0.8" fill="#f8d8d8" stroke="#5a3535" stroke-width="0.65"/>
<rect x="376.5" y="684.5" width="3.2" height="12.5" rx="0.8" fill="#f8d8d8" stroke="#5a3535" stroke-width="0.65"/>
<path d="M413.4,627.4L413.4,671" stroke="#aaa" stroke-width="0.6"/>
<rect x="411.79999999999995" y="671" width="3.2" height="12.5" rx="0.8" fill="#f8d8d8" stroke="#5a3535" stroke-width="0.65"/>
<rect x="411.79999999999995" y="684.5" width="3.2" height="12.5" rx="0.8" fill="#f8d8d8" stroke="#5a3535" stroke-width="0.65"/>
<path d="M422.8,627.4L422.8,671" stroke="#aaa" stroke-width="0.6"/>
<rect x="421.2" y="671" width="3.2" height="12.5" rx="0.8" fill="#f8d8d8" stroke="#5a3535" stroke-width="0.65"/>
<rect x="421.2" y="684.5" width="3.2" height="12.5" rx="0.8" fill="#f8d8d8" stroke="#5a3535" stroke-width="0.65"/>
<path d="M458.4,627.4L458.4,671" stroke="#aaa" stroke-width="0.6"/>
<rect x="456.79999999999995" y="671" width="3.2" height="12.5" rx="0.8" fill="#f8d8d8" stroke="#5a3535" stroke-width="0.65"/>
<rect x="456.79999999999995" y="684.5" width="3.2" height="12.5" rx="0.8" fill="#f8d8d8" stroke="#5a3535" stroke-width="0.65"/>
<path d="M467.8,627.4L467.8,671" stroke="#aaa" stroke-width="0.6"/>
<rect x="466.2" y="671" width="3.2" height="12.5" rx="0.8" fill="#f8d8d8" stroke="#5a3535" stroke-width="0.65"/>
<rect x="466.2" y="684.5" width="3.2" height="12.5" rx="0.8" fill="#f8d8d8" stroke="#5a3535" stroke-width="0.65"/>
<path d="M336,627.4L336,760" stroke="#777" stroke-width="0.6"/>
<rect x="334.4" y="671" width="3.2" height="25.5" rx="0.8" fill="#fbe3e3" stroke="#9a4a4a" stroke-width="0.5"/>
<path d="M334.5,754l3,4M337.5,754l-3,4" stroke="#7a2a2a" stroke-width="0.9"/>
<path d="M98.8,628.2h10" stroke="#333" stroke-width="1.1" fill="none"/><path d="M100.3,628.6l3.5,3.4l3.5,-3.4z" fill="#555" stroke="#222" stroke-width="0.5"/><circle cx="103.8" cy="632.3" r="1" fill="#333"/>
<path d="M183.8,628.2h10" stroke="#333" stroke-width="1.1" fill="none"/><path d="M185.3,628.6l3.5,3.4l3.5,-3.4z" fill="#555" stroke="#222" stroke-width="0.5"/><circle cx="188.8" cy="632.3" r="1" fill="#333"/>
<path d="M278.8,628.2h10" stroke="#333" stroke-width="1.1" fill="none"/><path d="M280.3,628.6l3.5,3.4l3.5,-3.4z" fill="#555" stroke="#222" stroke-width="0.5"/><circle cx="283.8" cy="632.3" r="1" fill="#333"/>
<path d="M364,628.2h10" stroke="#333" stroke-width="1.1" fill="none"/><path d="M365.5,628.6l3.5,3.4l3.5,-3.4z" fill="#555" stroke="#222" stroke-width="0.5"/><circle cx="369" cy="632.3" r="1" fill="#333"/>
<path d="M408.4,628.2h10" stroke="#333" stroke-width="1.1" fill="none"/><path d="M409.9,628.6l3.5,3.4l3.5,-3.4z" fill="#555" stroke="#222" stroke-width="0.5"/><circle cx="413.4" cy="632.3" r="1" fill="#333"/>
<path d="M453.4,628.2h10" stroke="#333" stroke-width="1.1" fill="none"/><path d="M454.9,628.6l3.5,3.4l3.5,-3.4z" fill="#555" stroke="#222" stroke-width="0.5"/><circle cx="458.4" cy="632.3" r="1" fill="#333"/>
<path d="M509.9,628.2h10" stroke="#333" stroke-width="1.1" fill="none"/><path d="M511.4,628.6l3.5,3.4l3.5,-3.4z" fill="#555" stroke="#222" stroke-width="0.5"/><circle cx="514.9" cy="632.3" r="1" fill="#333"/>
<path d="M103.8,632L103.8,718.6" stroke="#999" stroke-width="0.6"/>
<circle cx="103.8" cy="726" r="7.4" fill="none" stroke="#333" stroke-width="0.85"/><rect x="94.6" y="724.7" width="2.6" height="2.6" fill="#555"/><rect x="110.4" y="724.7" width="2.6" height="2.6" fill="#555"/><path d="M97.39999999999999,726H110.2" stroke="#f2a0a0" stroke-width="0.5"/>
<path d="M103.8,733.4L103.8,746" stroke="#999" stroke-width="0.6"/>
<path d="M100.8,748h6l-3,-3z" fill="#555"/>
<path d="M283.8,632L283.8,718.6" stroke="#999" stroke-width="0.6"/>
<circle cx="283.8" cy="726" r="7.4" fill="none" stroke="#333" stroke-width="0.85"/><rect x="274.6" y="724.7" width="2.6" height="2.6" fill="#555"/><rect x="290.4" y="724.7" width="2.6" height="2.6" fill="#555"/><path d="M277.40000000000003,726H290.2" stroke="#f2a0a0" stroke-width="0.5"/>
<path d="M283.8,733.4L283.8,746" stroke="#999" stroke-width="0.6"/>
<path d="M280.8,748h6l-3,-3z" fill="#555"/>
<path d="M373.4,632L373.4,718.6" stroke="#999" stroke-width="0.6"/>
<circle cx="373.4" cy="725.5" r="7" fill="none" stroke="#333" stroke-width="0.85"/><rect x="364.59999999999997" y="724.2" width="2.6" height="2.6" fill="#555"/><rect x="379.59999999999997" y="724.2" width="2.6" height="2.6" fill="#555"/><path d="M367.4,725.5H379.4" stroke="#f2a0a0" stroke-width="0.5"/>
<path d="M421.8,632L421.8,718.6" stroke="#999" stroke-width="0.6"/>
<circle cx="421.8" cy="725.5" r="7" fill="none" stroke="#333" stroke-width="0.85"/><rect x="413.0" y="724.2" width="2.6" height="2.6" fill="#555"/><rect x="428.0" y="724.2" width="2.6" height="2.6" fill="#555"/><path d="M415.8,725.5H427.8" stroke="#f2a0a0" stroke-width="0.5"/>
<path d="M459.8,632L459.8,718.6" stroke="#999" stroke-width="0.6"/>
<circle cx="459.8" cy="725.5" r="7" fill="none" stroke="#333" stroke-width="0.85"/><rect x="451.0" y="724.2" width="2.6" height="2.6" fill="#555"/><rect x="466.0" y="724.2" width="2.6" height="2.6" fill="#555"/><path d="M453.8,725.5H465.8" stroke="#f2a0a0" stroke-width="0.5"/>
<path d="M459.8,732.5L459.8,748" stroke="#888" stroke-width="0.6"/>
<path d="M455,750h10l-5,-3z" fill="#666"/>
<path d="M110,719.2L152,719.2" stroke="#aaa" stroke-width="0.5"/>
<path d="M110,732.5L152,732.5" stroke="#aaa" stroke-width="0.5"/>
<path d="M110,726L158,726" stroke="#e07070" stroke-width="0.5"/>
<circle cx="152" cy="725.8" r="6.6" stroke="#aaa" stroke-width="0.5"/>
<path d="M283.8,719.2L332,719.2" stroke="#aaa" stroke-width="0.5"/>
<path d="M283.8,732.5L332,732.5" stroke="#aaa" stroke-width="0.5"/>
<path d="M283.8,726L338,726" stroke="#e07070" stroke-width="0.5"/>
<circle cx="332" cy="725.8" r="6.6" stroke="#aaa" stroke-width="0.5"/>
<path d="M459.8,719.2L511,719.2" stroke="#aaa" stroke-width="0.5"/>
<path d="M459.8,732.5L511,732.5" stroke="#aaa" stroke-width="0.5"/>
<path d="M459.8,726L517,726" stroke="#e07070" stroke-width="0.5"/>
<circle cx="511" cy="725.8" r="6.6" stroke="#aaa" stroke-width="0.5"/>
<rect x="93.2" y="750" width="31" height="10.8" stroke="#888" stroke-width="0.6"/>
<path d="M124,752.2 H330 M124,760 H330" stroke="#e58a8a" stroke-width="0.5"/>
<path d="M224,752.2 Q216.5,752.2 216.5,760 V936 M224,756 Q220.5,756 220.5,760 V936" stroke="#e58a8a" stroke-width="0.5"/>
<path d="M215.8,760 V936 Q215.8,940 218.5,940 Q221.2,940 221.2,936 V760" stroke="#aaa" stroke-width="0.5"/>
<path d="M336,754 H389 Q393.5,754 393.5,749 V708 M336,760 H391 Q399,760 399,752 V708" stroke="#aaa" stroke-width="0.55"/>
<path d="M336,757 H392 Q396.3,757 396.3,752 V700" stroke="#e58a8a" stroke-width="0.5"/>
<path d="M402,752 H508 M402,760 H508" stroke="#aaa" stroke-width="0.5"/>
<path d="M402,754.5 H515" stroke="#e58a8a" stroke-width="0.5"/>
<path d="M435.5,708 V752 Q435.5,757 441,757 M441,708 V750" stroke="#aaa" stroke-width="0.5"/>
<path d="M434,697 h8.5 v5 l-2,6 h-4.5 l-2,-6z" stroke="#aaa" stroke-width="0.5"/>
<path d="M391.5,697 h9.5 v5 l-2,6 h-5.5 l-2,-6z" stroke="#aaa" stroke-width="0.5"/>
<path d="M515.5,754 m-4,0 a4,3 0 1 0 8,0 a4,3 0 1 0 -8,0" fill="#888" stroke="#444" stroke-width="0.5"/>
<text x="348" y="751" font-size="5" fill="#999">DN80</text><text x="503" y="751" font-size="5" fill="#999">DN80</text>
<path d="M110.4,904.4 V763 C110.4,754 116.4,750 128.4,748 Q155.15,740 181.9,748 C193.9,750 199.9,754 199.9,763 V904.4" fill="none" stroke="#8c8c8c" stroke-width="0.6"/>
<path d="M110.4,764.3L199.9,764.3" stroke="#555" stroke-width="0.7"/>
<path d="M110.4,904.4L199.9,904.4" stroke="#444" stroke-width="0.8"/>
<path d="M112.4,906.9L197.9,906.9" stroke="#e07070" stroke-width="0.6"/>
<path d="M110.4,904.4 V908.4 Q112.4,916.4 124.4,917.4 H185.9 Q197.9,916.4 199.9,908.4 V904.4" fill="none" stroke="#6a6a6a" stroke-width="0.6"/>
<rect x="143.9" y="737.5" width="22.5" height="5" rx="1" fill="none" stroke="#333" stroke-width="0.7"/>
<path d="M144.4,739.4H166.4M144.4,741.4H166.4" stroke="#222" stroke-width="0.9" stroke-dasharray="1.6 1.4"/>
<rect x="148.4" y="786" width="13.3" height="6" rx="1" fill="#eee" stroke="#777" stroke-width="0.5"/>
<path d="M150.4,789.2h9" stroke="#777" stroke-width="0.9"/>
<path d="M151.60000000000002,856.6 V849.8 H158.8 V856.6" fill="none" stroke="#c04040" stroke-width="0.6"/>
<rect x="151.60000000000002" y="870.4" width="7.2" height="7.2" fill="none" stroke="#c04040" stroke-width="0.6"/>
<rect x="151.60000000000002" y="893.5" width="7.2" height="7" fill="none" stroke="#c04040" stroke-width="0.6"/>
<circle cx="150.15" cy="755.4" r="0.75" fill="#222"/>
<circle cx="155.15" cy="755.4" r="0.75" fill="#222"/>
<circle cx="160.15" cy="755.4" r="0.75" fill="#222"/>
<circle cx="155.15" cy="751.8" r="0.75" fill="#222"/>
<circle cx="121.4" cy="754" r="1.5" fill="none" stroke="#555" stroke-width="0.5"/>
<circle cx="188.9" cy="754" r="1.5" fill="none" stroke="#555" stroke-width="0.5"/>
<path d="M198.9,890 l2,-3" stroke="#555" stroke-width="0.8"/>
<rect x="121.0" y="916.4" width="12.4" height="37.0" fill="none" stroke="#777" stroke-width="0.6"/>
<path d="M119.0,916.4l5,3h10l3,-3" fill="none" stroke="#555" stroke-width="0.6"/>
<path d="M119.0,953.4L135.4,953.4" stroke="#666" stroke-width="0.6"/>
<rect x="177.4" y="916.4" width="12.4" height="37.0" fill="none" stroke="#777" stroke-width="0.6"/>
<path d="M175.4,916.4l5,3h10l3,-3" fill="none" stroke="#555" stroke-width="0.6"/>
<path d="M175.4,953.4L191.8,953.4" stroke="#666" stroke-width="0.6"/>
<ellipse cx="155.0" cy="919" rx="6.5" ry="2.6" fill="none" stroke="#444" stroke-width="0.6"/>
<rect x="144.0" y="924" width="22" height="5" fill="none" stroke="#444" stroke-width="0.6"/>
<path d="M144.0,926.5H166.0" stroke="#444" stroke-width="0.6" stroke-dasharray="1.5 1.5"/>
<path d="M151.0,929 V950 H159.0 V929" fill="none" stroke="#666" stroke-width="0.5"/>
<rect x="152.0" y="933" width="6" height="4" fill="#e88" stroke="#c04040" stroke-width="0.5"/>
<circle cx="155.0" cy="941" r="3.3" fill="#fff" stroke="#333" stroke-width="0.8"/>
<rect x="182.8" y="936" width="4" height="9" fill="#f2b0b0" stroke="#c04040" stroke-width="0.6"/>
<path d="M184.8,931V936M182.8,931h4" stroke="#555" stroke-width="0.6"/>
<path d="M235.3,904.4 V763 C235.3,754 241.3,750 253.3,748 Q280.05,740 306.8,748 C318.8,750 324.8,754 324.8,763 V904.4" fill="none" stroke="#8c8c8c" stroke-width="0.6"/>
<path d="M235.3,764.3L324.8,764.3" stroke="#555" stroke-width="0.7"/>
<path d="M235.3,904.4L324.8,904.4" stroke="#444" stroke-width="0.8"/>
<path d="M237.3,906.9L322.8,906.9" stroke="#e07070" stroke-width="0.6"/>
<path d="M235.3,904.4 V908.4 Q237.3,916.4 249.3,917.4 H310.8 Q322.8,916.4 324.8,908.4 V904.4" fill="none" stroke="#6a6a6a" stroke-width="0.6"/>
<rect x="268.8" y="737.5" width="22.5" height="5" rx="1" fill="none" stroke="#333" stroke-width="0.7"/>
<path d="M269.3,739.4H291.3M269.3,741.4H291.3" stroke="#222" stroke-width="0.9" stroke-dasharray="1.6 1.4"/>
<rect x="273.3" y="786" width="13.3" height="6" rx="1" fill="#eee" stroke="#777" stroke-width="0.5"/>
<path d="M275.3,789.2h9" stroke="#777" stroke-width="0.9"/>
<path d="M276.5,856.6 V849.8 H283.7 V856.6" fill="none" stroke="#c04040" stroke-width="0.6"/>
<rect x="276.5" y="870.4" width="7.2" height="7.2" fill="none" stroke="#c04040" stroke-width="0.6"/>
<rect x="276.5" y="893.5" width="7.2" height="7" fill="none" stroke="#c04040" stroke-width="0.6"/>
<circle cx="275.05" cy="755.4" r="0.75" fill="#222"/>
<circle cx="280.05" cy="755.4" r="0.75" fill="#222"/>
<circle cx="285.05" cy="755.4" r="0.75" fill="#222"/>
<circle cx="280.05" cy="751.8" r="0.75" fill="#222"/>
<circle cx="246.3" cy="754" r="1.5" fill="none" stroke="#555" stroke-width="0.5"/>
<circle cx="313.8" cy="754" r="1.5" fill="none" stroke="#555" stroke-width="0.5"/>
<path d="M323.8,890 l2,-3" stroke="#555" stroke-width="0.8"/>
<rect x="245.9" y="916.4" width="12.4" height="37.0" fill="none" stroke="#777" stroke-width="0.6"/>
<path d="M243.9,916.4l5,3h10l3,-3" fill="none" stroke="#555" stroke-width="0.6"/>
<path d="M243.9,953.4L260.3,953.4" stroke="#666" stroke-width="0.6"/>
<rect x="302.3" y="916.4" width="12.4" height="37.0" fill="none" stroke="#777" stroke-width="0.6"/>
<path d="M300.3,916.4l5,3h10l3,-3" fill="none" stroke="#555" stroke-width="0.6"/>
<path d="M300.3,953.4L316.7,953.4" stroke="#666" stroke-width="0.6"/>
<ellipse cx="279.90000000000003" cy="919" rx="6.5" ry="2.6" fill="none" stroke="#444" stroke-width="0.6"/>
<rect x="268.90000000000003" y="924" width="22" height="5" fill="none" stroke="#444" stroke-width="0.6"/>
<path d="M268.90000000000003,926.5H290.90000000000003" stroke="#444" stroke-width="0.6" stroke-dasharray="1.5 1.5"/>
<path d="M275.90000000000003,929 V950 H283.90000000000003 V929" fill="none" stroke="#666" stroke-width="0.5"/>
<rect x="276.90000000000003" y="933" width="6" height="4" fill="#e88" stroke="#c04040" stroke-width="0.5"/>
<circle cx="279.90000000000003" cy="941" r="3.3" fill="#fff" stroke="#333" stroke-width="0.8"/>
<rect x="247.9" y="936" width="4" height="9" fill="#f2b0b0" stroke="#c04040" stroke-width="0.6"/>
<path d="M249.9,931V936M247.9,931h4" stroke="#555" stroke-width="0.6"/>
<path d="M110,752L215,752" stroke="#e07070" stroke-width="0.5"/>
<path d="M235,752L330,752" stroke="#e07070" stroke-width="0.5"/>
<path d="M110,760L215,760" stroke="#e07070" stroke-width="0.5"/>
<path d="M235,760L330,760" stroke="#e07070" stroke-width="0.5"/>
<rect x="277" y="749" width="30" height="9" stroke="#888" stroke-width="0.6"/>
<path d="M155,941L290,941" stroke="#e07070" stroke-width="0.6"/>
<path d="M155,938.5L290,938.5" stroke="#bbb" stroke-width="0.4"/>
<path d="M184,937v8M232,937v8M245,937v8" stroke="#888" stroke-width="0.5"/>
<rect x="123.1" y="627.4" width="10.300000000000011" height="326.0" fill="none" stroke="#e07070" stroke-width="0.6"/>
<path d="M122.5,627.4L122.5,953.4" stroke="#9a9a9a" stroke-width="0.5"/>
<path d="M131.6,627.4L131.6,953.4" stroke="#9a9a9a" stroke-width="0.5"/>
<rect x="213.6" y="639.5" width="9.800000000000011" height="313.9" fill="none" stroke="#e07070" stroke-width="0.6"/>
<path d="M213.0,639.5L213.0,953.4" stroke="#9a9a9a" stroke-width="0.5"/>
<path d="M221.6,639.5L221.6,953.4" stroke="#9a9a9a" stroke-width="0.5"/>
<path d="M218.5,627.4L218.5,639.5" stroke="#666" stroke-width="0.6"/>
<path d="M212.29999999999998,639.5H224.0M209.6,644.7H227.9" stroke="#666" stroke-width="1"/>
<rect x="302.8" y="627.4" width="10.199999999999989" height="326.0" fill="none" stroke="#e07070" stroke-width="0.6"/>
<path d="M302.2,627.4L302.2,953.4" stroke="#9a9a9a" stroke-width="0.5"/>
<path d="M311.2,627.4L311.2,953.4" stroke="#9a9a9a" stroke-width="0.5"/>
<rect x="392.9" y="639.5" width="9.5" height="313.9" fill="none" stroke="#e07070" stroke-width="0.6"/>
<path d="M392.29999999999995,639.5L392.29999999999995,953.4" stroke="#9a9a9a" stroke-width="0.5"/>
<path d="M400.59999999999997,639.5L400.59999999999997,953.4" stroke="#9a9a9a" stroke-width="0.5"/>
<path d="M397.65,627.4L397.65,639.5" stroke="#666" stroke-width="0.6"/>
<path d="M391.59999999999997,639.5H403.0M388.9,644.7H406.9" stroke="#666" stroke-width="1"/>
<rect x="482.3" y="639.5" width="10.0" height="313.9" fill="none" stroke="#e07070" stroke-width="0.6"/>
<path d="M481.7,639.5L481.7,953.4" stroke="#9a9a9a" stroke-width="0.5"/>
<path d="M490.5,639.5L490.5,953.4" stroke="#9a9a9a" stroke-width="0.5"/>
<path d="M487.3,627.4L487.3,639.5" stroke="#666" stroke-width="0.6"/>
<path d="M481.0,639.5H492.90000000000003M478.3,644.7H496.8" stroke="#666" stroke-width="1"/>
<path d="M126.3,627.4V672M129.9,627.4V672" stroke="#bbb" stroke-width="0.5"/>
<path d="M402.8,772.4 L482,941" stroke="#b86a6a" stroke-width="1.3"/>
<path d="M482,772.4 L402.8,941" stroke="#a8a8a8" stroke-width="1.3"/>
<rect x="357.4" y="898" width="20" height="4.5" rx="1" fill="#f4f4f4" stroke="#777" stroke-width="0.6"/>
<path d="M356.4,900V914M378.4,900V914" stroke="#d44" stroke-width="0.6"/>
<rect x="358.4" y="903" width="18" height="8" fill="#fff" stroke="#333" stroke-width="0.6"/>
<path d="M360.4,908h14" stroke="#222" stroke-width="2.4" stroke-dasharray="1 0.7"/>
<path d="M357.4,912h20M358.4,916h18" stroke="#333" stroke-width="0.6"/>
<rect x="356.4" y="912" width="22" height="41.4" fill="none" stroke="#c33" stroke-width="0.8"/>
<path d="M359.4,918v16M361.9,917v18M364.4,917v18M366.9,917v18M369.4,917v18M371.9,917v18M374.4,918v16" stroke="#1a1a1a" stroke-width="0.9"/>
<path d="M360.59999999999997,919v14M365.59999999999997,919v14M370.59999999999997,919v14M373.4,919v14" stroke="#d33" stroke-width="0.6"/>
<circle cx="367.4" cy="941" r="8" fill="#222" stroke="#111" stroke-width="0.5"/>
<circle cx="367.4" cy="941" r="5" fill="none" stroke="#aaa" stroke-width="0.5" stroke-dasharray="1 1"/>
<circle cx="367.4" cy="941" r="2" fill="#666" stroke="#111" stroke-width="0.5"/>
<path d="M357.4,934l-7,3.5l2.5,5l4.5,-2.5z M377.4,934l7,3.5l-2.5,5l-4.5,-2.5z" fill="#f7d0d0" stroke="#d33" stroke-width="0.7"/>
<path d="M356.4,952.5h22" stroke="#c33" stroke-width="1"/>
<path d="M396.2,770.3H518.6" stroke="#4a5a5a" stroke-width="0.5"/>
<path d="M396.2,765.3V774.3" stroke="#9aa" stroke-width="0.4"/>
<path d="M518.6,765.3V774.3" stroke="#9aa" stroke-width="0.4"/>
<path d="M438.6,765.3V774.3" stroke="#9aa" stroke-width="0.4"/>
<path d="M396.2,770.3l7,-1.6v3.2zM438.6,770.3l-7,-1.6v3.2z" fill="#1e3232"/>
<path d="M438.6,770.3l7,-1.6v3.2zM518.6,770.3l-7,-1.6v3.2z" fill="#1e3232"/>
<text x="417.5" y="767.8" font-size="5.5" fill="#999" text-anchor="middle">310</text>
<text x="478" y="767.8" font-size="5.5" fill="#999" text-anchor="middle">1117</text>
<path d="M154.5,982H366" stroke="#4a5a5a" stroke-width="0.5"/>
<path d="M154.5,977V986" stroke="#9aa" stroke-width="0.4"/>
<path d="M366,977V986" stroke="#9aa" stroke-width="0.4"/>
<path d="M280.5,977V986" stroke="#9aa" stroke-width="0.4"/>
<path d="M154.5,982l7,-1.6v3.2zM280.5,982l-7,-1.6v3.2z" fill="#1e3232"/>
<path d="M280.5,982l7,-1.6v3.2zM366,982l-7,-1.6v3.2z" fill="#1e3232"/>
<text x="217.5" y="979.5" font-size="5.5" fill="#999" text-anchor="middle">2100</text>
<text x="323.5" y="979.5" font-size="5.5" fill="#999" text-anchor="middle">1450</text>
<path d="M539.7,684.4V953.4" stroke="#4a5a5a" stroke-width="0.5"/>
<path d="M535.7,684.4H544.7" stroke="#9aa" stroke-width="0.4"/>
<path d="M535.7,953.4H544.7" stroke="#9aa" stroke-width="0.4"/>
<path d="M535.7,756H544.7" stroke="#9aa" stroke-width="0.4"/>
<path d="M539.7,684.4l-1.6,7h3.2zM539.7,756l-1.6,-7h3.2z" fill="#1e3232"/>
<path d="M539.7,756l-1.6,7h3.2zM539.7,953.4l-1.6,-7h3.2z" fill="#1e3232"/>
<text transform="translate(537.2 720) rotate(-90)" font-size="5.5" fill="#999" text-anchor="middle">1218</text>
<text transform="translate(537.2 855) rotate(-90)" font-size="5.5" fill="#999" text-anchor="middle">2882</text>
<path d="M552.8,684.4V953.4" stroke="#4a5a5a" stroke-width="0.5"/>
<path d="M548.8,684.4H557.8" stroke="#9aa" stroke-width="0.4"/>
<path d="M548.8,953.4H557.8" stroke="#9aa" stroke-width="0.4"/>
<path d="M552.8,684.4l-1.6,7h3.2zM552.8,953.4l-1.6,-7h3.2z" fill="#1e3232"/>
<text transform="translate(550.3 818) rotate(-90)" font-size="5.5" fill="#999" text-anchor="middle">4100</text>
</g>
<!-- 60_elev2 -->
<g id="elev2" fill="none">
<rect x="703.3" y="627.4" width="317.9" height="17.7" fill="#fff" stroke="#6a6a6a" stroke-width="0.7"/>
<path d="M704,629L1021,629" stroke="#e07070" stroke-width="0.6"/>
<path d="M704,643.5L1021,643.5" stroke="#e07070" stroke-width="0.6"/>
<rect x="703.3" y="627.4" width="22" height="17.7" stroke="#888" stroke-width="0.6"/>
<path d="M703.3,636 H725" stroke="#e07070" stroke-width="0.5"/>
<path d="M719,606.5H1018.8" stroke="#4a5a5a" stroke-width="0.5"/>
<path d="M719,601.5V610.5" stroke="#9aa" stroke-width="0.4"/>
<path d="M1018.8,601.5V610.5" stroke="#9aa" stroke-width="0.4"/>
<path d="M719,606.5l7,-1.6v3.2zM1018.8,606.5l-7,-1.6v3.2z" fill="#1e3232"/>
<text x="868.5" y="604.0" font-size="5.5" fill="#999" text-anchor="middle">4998</text>
<path d="M719.6,615.5V627.4M713.6,615.5h12" stroke="#555" stroke-width="0.7"/>
<path d="M797.5,615.5V627.4M791.5,615.5h12" stroke="#555" stroke-width="0.7"/>
<path d="M875,615.5V627.4M869,615.5h12" stroke="#555" stroke-width="0.7"/>
<path d="M978.5,615.5V627.4M972.5,615.5h12" stroke="#555" stroke-width="0.7"/>
<rect x="793.6" y="630.3" width="12" height="2.2" fill="#ddd" stroke="#444" stroke-width="0.5"/><rect x="798.1" y="629.5" width="3" height="3.5" fill="#333"/>
<text x="819.6" y="614.5" font-size="3.8" fill="#888">MRG-UK 0</text><text x="820.6" y="625" font-size="3.8" fill="#888">MRG-L 0</text>
<rect x="869" y="630.3" width="12" height="2.2" fill="#ddd" stroke="#444" stroke-width="0.5"/><rect x="873.5" y="629.5" width="3" height="3.5" fill="#333"/>
<text x="895" y="614.5" font-size="3.8" fill="#888">MRG-UK 0</text><text x="896" y="625" font-size="3.8" fill="#888">MRG-L 0</text>
<rect x="955.5" y="624.5" width="17" height="3" fill="#999" stroke="#666" stroke-width="0.4"/>
<circle cx="719" cy="684.4" r="13.6" fill="none" stroke="#333" stroke-width="0.85"/><rect x="703.6" y="683.1" width="2.6" height="2.6" fill="#555"/><rect x="731.8000000000001" y="683.1" width="2.6" height="2.6" fill="#555"/><path d="M706.4,684.4H731.6" stroke="#f2a0a0" stroke-width="0.5"/>
<path d="M705,670v26" stroke="#888" stroke-width="0.5"/>
<path d="M719,627.4L719,670.8" stroke="#777" stroke-width="0.6"/>
<path d="M706,684.4L732,684.4" stroke="#e07070" stroke-width="0.5"/>
<path d="M715,698 l1,8 v48 Q716,759 721,759 H1012 Q1020,759 1020,767 V938 M722,698 l-1,8 v46 Q721,755 724,755 H1012 Q1016,755 1016,760 V935 Q1016,940 1020,940" stroke="#aaa" stroke-width="0.55"/>
<path d="M722,757.2L1012,757.2" stroke="#e07070" stroke-width="0.5"/>
<text x="833" y="755" font-size="5" fill="#999">DN80</text>
<path d="M799.6,632.5L799.6,757" stroke="#777" stroke-width="0.6"/>
<path d="M875,632.5L875,757" stroke="#777" stroke-width="0.6"/>
<path d="M799.6,753v6M875,753v6" stroke="#5a2a2a" stroke-width="1.6"/>
<path d="M880,651.5 L889,644.5 L983.5,763 L975,770 Z" stroke="#888" stroke-width="0.6"/>
<path d="M884.5,648 L979,766.5" stroke="#e07070" stroke-width="0.5"/>
<path d="M910.6,904.4 V763 C910.6,754 916.6,750 928.6,748 Q955.6,740 982.6,748 C994.6,750 1000.6,754 1000.6,763 V904.4" fill="none" stroke="#8c8c8c" stroke-width="0.6"/>
<path d="M910.6,764.3L1000.6,764.3" stroke="#555" stroke-width="0.7"/>
<path d="M910.6,904.4L1000.6,904.4" stroke="#444" stroke-width="0.8"/>
<path d="M912.6,906.9L998.6,906.9" stroke="#e07070" stroke-width="0.6"/>
<path d="M910.6,904.4 V908.4 Q912.6,916.4 924.6,917.4 H986.6 Q998.6,916.4 1000.6,908.4 V904.4" fill="none" stroke="#6a6a6a" stroke-width="0.6"/>
<rect x="944.1" y="737.5" width="22.5" height="5" rx="1" fill="none" stroke="#333" stroke-width="0.7"/>
<path d="M944.6,739.4H966.6M944.6,741.4H966.6" stroke="#222" stroke-width="0.9" stroke-dasharray="1.6 1.4"/>
<rect x="948.6" y="786" width="13.3" height="6" rx="1" fill="#eee" stroke="#777" stroke-width="0.5"/>
<path d="M950.6,789.2h9" stroke="#777" stroke-width="0.9"/>
<path d="M951.8000000000001,856.6 V849.8 H959.0 V856.6" fill="none" stroke="#c04040" stroke-width="0.6"/>
<rect x="951.8000000000001" y="870.4" width="7.2" height="7.2" fill="none" stroke="#c04040" stroke-width="0.6"/>
<rect x="951.8000000000001" y="893.5" width="7.2" height="7" fill="none" stroke="#c04040" stroke-width="0.6"/>
<circle cx="950.6" cy="755.4" r="0.75" fill="#222"/>
<circle cx="955.6" cy="755.4" r="0.75" fill="#222"/>
<circle cx="960.6" cy="755.4" r="0.75" fill="#222"/>
<circle cx="955.6" cy="751.8" r="0.75" fill="#222"/>
<circle cx="921.6" cy="754" r="1.5" fill="none" stroke="#555" stroke-width="0.5"/>
<circle cx="989.6" cy="754" r="1.5" fill="none" stroke="#555" stroke-width="0.5"/>
<path d="M999.6,890 l2,-3" stroke="#555" stroke-width="0.8"/>
<rect x="921.2" y="916.4" width="12.4" height="37.0" fill="none" stroke="#777" stroke-width="0.6"/>
<path d="M919.2,916.4l5,3h10l3,-3" fill="none" stroke="#555" stroke-width="0.6"/>
<path d="M919.2,953.4L935.6,953.4" stroke="#666" stroke-width="0.6"/>
<rect x="977.6" y="916.4" width="12.4" height="37.0" fill="none" stroke="#777" stroke-width="0.6"/>
<path d="M975.6,916.4l5,3h10l3,-3" fill="none" stroke="#555" stroke-width="0.6"/>
<path d="M975.6,953.4L992.0,953.4" stroke="#666" stroke-width="0.6"/>
<ellipse cx="955.2" cy="919" rx="6.5" ry="2.6" fill="none" stroke="#444" stroke-width="0.6"/>
<rect x="944.2" y="924" width="22" height="5" fill="none" stroke="#444" stroke-width="0.6"/>
<path d="M944.2,926.5H966.2" stroke="#444" stroke-width="0.6" stroke-dasharray="1.5 1.5"/>
<path d="M951.2,929 V950 H959.2 V929" fill="none" stroke="#666" stroke-width="0.5"/>
<rect x="952.2" y="933" width="6" height="4" fill="#e88" stroke="#c04040" stroke-width="0.5"/>
<circle cx="955.2" cy="941" r="3.3" fill="#fff" stroke="#333" stroke-width="0.8"/>
<rect x="983.0" y="936" width="4" height="9" fill="#f2b0b0" stroke="#c04040" stroke-width="0.6"/>
<path d="M985.0,931V936M983.0,931h4" stroke="#555" stroke-width="0.6"/>
<path d="M1036.5,904.4 V763 C1036.5,754 1042.5,750 1054.5,748 Q1081.75,740 1109.0,748 C1121.0,750 1127.0,754 1127.0,763 V904.4" fill="none" stroke="#8c8c8c" stroke-width="0.6"/>
<path d="M1036.5,764.3L1127.0,764.3" stroke="#555" stroke-width="0.7"/>
<path d="M1036.5,904.4L1127.0,904.4" stroke="#444" stroke-width="0.8"/>
<path d="M1038.5,906.9L1125.0,906.9" stroke="#e07070" stroke-width="0.6"/>
<path d="M1036.5,904.4 V908.4 Q1038.5,916.4 1050.5,917.4 H1113.0 Q1125.0,916.4 1127.0,908.4 V904.4" fill="none" stroke="#6a6a6a" stroke-width="0.6"/>
<rect x="1070.0" y="737.5" width="22.5" height="5" rx="1" fill="none" stroke="#333" stroke-width="0.7"/>
<path d="M1070.5,739.4H1092.5M1070.5,741.4H1092.5" stroke="#222" stroke-width="0.9" stroke-dasharray="1.6 1.4"/>
<rect x="1074.5" y="786" width="13.3" height="6" rx="1" fill="#eee" stroke="#777" stroke-width="0.5"/>
<path d="M1076.5,789.2h9" stroke="#777" stroke-width="0.9"/>
<path d="M1077.7,856.6 V849.8 H1084.9 V856.6" fill="none" stroke="#c04040" stroke-width="0.6"/>
<rect x="1077.7" y="870.4" width="7.2" height="7.2" fill="none" stroke="#c04040" stroke-width="0.6"/>
<rect x="1077.7" y="893.5" width="7.2" height="7" fill="none" stroke="#c04040" stroke-width="0.6"/>
<circle cx="1076.75" cy="755.4" r="0.75" fill="#222"/>
<circle cx="1081.75" cy="755.4" r="0.75" fill="#222"/>
<circle cx="1086.75" cy="755.4" r="0.75" fill="#222"/>
<circle cx="1081.75" cy="751.8" r="0.75" fill="#222"/>
<circle cx="1047.5" cy="754" r="1.5" fill="none" stroke="#555" stroke-width="0.5"/>
<circle cx="1116.0" cy="754" r="1.5" fill="none" stroke="#555" stroke-width="0.5"/>
<path d="M1126.0,890 l2,-3" stroke="#555" stroke-width="0.8"/>
<rect x="1047.1" y="916.4" width="12.4" height="37.0" fill="none" stroke="#777" stroke-width="0.6"/>
<path d="M1045.1,916.4l5,3h10l3,-3" fill="none" stroke="#555" stroke-width="0.6"/>
<path d="M1045.1,953.4L1061.5,953.4" stroke="#666" stroke-width="0.6"/>
<rect x="1103.5" y="916.4" width="12.4" height="37.0" fill="none" stroke="#777" stroke-width="0.6"/>
<path d="M1101.5,916.4l5,3h10l3,-3" fill="none" stroke="#555" stroke-width="0.6"/>
<path d="M1101.5,953.4L1117.9,953.4" stroke="#666" stroke-width="0.6"/>
<ellipse cx="1081.1" cy="919" rx="6.5" ry="2.6" fill="none" stroke="#444" stroke-width="0.6"/>
<rect x="1070.1" y="924" width="22" height="5" fill="none" stroke="#444" stroke-width="0.6"/>
<path d="M1070.1,926.5H1092.1" stroke="#444" stroke-width="0.6" stroke-dasharray="1.5 1.5"/>
<path d="M1077.1,929 V950 H1085.1 V929" fill="none" stroke="#666" stroke-width="0.5"/>
<rect x="1078.1" y="933" width="6" height="4" fill="#e88" stroke="#c04040" stroke-width="0.5"/>
<circle cx="1081.1" cy="941" r="3.3" fill="#fff" stroke="#333" stroke-width="0.8"/>
<rect x="1048.7" y="936" width="4" height="9" fill="#f2b0b0" stroke="#c04040" stroke-width="0.6"/>
<path d="M1050.7,931V936M1048.7,931h4" stroke="#555" stroke-width="0.6"/>
<rect x="791.8" y="639.5" width="10.6" height="313.9" rx="1" fill="none" stroke="#999" stroke-width="0.6"/>
<path d="M796.6,641L796.6,953.4" stroke="#d84a4a" stroke-width="0.8"/>
<rect x="974.7" y="645.1" width="11.1" height="308.3" fill="none" stroke="#999" stroke-width="0.6"/>
<path d="M979.4,645.1L979.4,953.4" stroke="#d84a4a" stroke-width="0.8"/>
<path d="M955,941L1081,941" stroke="#e07070" stroke-width="0.6"/>
<path d="M955,938.5L1081,938.5" stroke="#bbb" stroke-width="0.4"/>
<rect x="1013" y="936" width="14" height="8" stroke="#aaa" stroke-width="0.5"/>
<rect x="858.5" y="898" width="20" height="4.5" rx="1" fill="#f4f4f4" stroke="#777" stroke-width="0.6"/>
<path d="M857.5,900V914M879.5,900V914" stroke="#d44" stroke-width="0.6"/>
<rect x="859.5" y="903" width="18" height="8" fill="#fff" stroke="#333" stroke-width="0.6"/>
<path d="M861.5,908h14" stroke="#222" stroke-width="2.4" stroke-dasharray="1 0.7"/>
<path d="M858.5,912h20M859.5,916h18" stroke="#333" stroke-width="0.6"/>
<rect x="857.5" y="912" width="22" height="41.4" fill="none" stroke="#c33" stroke-width="0.8"/>
<path d="M860.5,918v16M863.0,917v18M865.5,917v18M868.0,917v18M870.5,917v18M873.0,917v18M875.5,918v16" stroke="#1a1a1a" stroke-width="0.9"/>
<path d="M861.7,919v14M866.7,919v14M871.7,919v14M874.5,919v14" stroke="#d33" stroke-width="0.6"/>
<circle cx="868.5" cy="941" r="8" fill="#222" stroke="#111" stroke-width="0.5"/>
<circle cx="868.5" cy="941" r="5" fill="none" stroke="#aaa" stroke-width="0.5" stroke-dasharray="1 1"/>
<circle cx="868.5" cy="941" r="2" fill="#666" stroke="#111" stroke-width="0.5"/>
<path d="M858.5,934l-7,3.5l2.5,5l4.5,-2.5z M878.5,934l7,3.5l-2.5,5l-4.5,-2.5z" fill="#f7d0d0" stroke="#d33" stroke-width="0.7"/>
<path d="M857.5,952.5h22" stroke="#c33" stroke-width="1"/>
<path d="M868.5,980.7H1081.8" stroke="#4a5a5a" stroke-width="0.5"/>
<path d="M868.5,975.7V984.7" stroke="#9aa" stroke-width="0.4"/>
<path d="M1081.8,975.7V984.7" stroke="#9aa" stroke-width="0.4"/>
<path d="M955.9,975.7V984.7" stroke="#9aa" stroke-width="0.4"/>
<path d="M868.5,980.7l7,-1.6v3.2zM955.9,980.7l-7,-1.6v3.2z" fill="#1e3232"/>
<path d="M955.9,980.7l7,-1.6v3.2zM1081.8,980.7l-7,-1.6v3.2z" fill="#1e3232"/>
<text x="910" y="978.2" font-size="5.5" fill="#999" text-anchor="middle">1450</text>
<text x="1018" y="978.2" font-size="5.5" fill="#999" text-anchor="middle">2100</text>
<path d="M671,684.4V953.4" stroke="#4a5a5a" stroke-width="0.5"/>
<path d="M667,684.4H676" stroke="#9aa" stroke-width="0.4"/>
<path d="M667,953.4H676" stroke="#9aa" stroke-width="0.4"/>
<path d="M671,684.4l-1.6,7h3.2zM671,953.4l-1.6,-7h3.2z" fill="#1e3232"/>
<text transform="translate(668.5 818) rotate(-90)" font-size="5.5" fill="#999" text-anchor="middle">4100</text>
<path d="M682.4,684.4V953.4" stroke="#4a5a5a" stroke-width="0.5"/>
<path d="M678.4,684.4H687.4" stroke="#9aa" stroke-width="0.4"/>
<path d="M678.4,953.4H687.4" stroke="#9aa" stroke-width="0.4"/>
<path d="M678.4,755.5H687.4" stroke="#9aa" stroke-width="0.4"/>
<path d="M682.4,684.4l-1.6,7h3.2zM682.4,755.5l-1.6,-7h3.2z" fill="#1e3232"/>
<path d="M682.4,755.5l-1.6,7h3.2zM682.4,953.4l-1.6,-7h3.2z" fill="#1e3232"/>
<text transform="translate(679.9 720) rotate(-90)" font-size="5.5" fill="#999" text-anchor="middle">1218</text>
<text transform="translate(679.9 855) rotate(-90)" font-size="5.5" fill="#999" text-anchor="middle">2882</text>
</g>
<!-- 70_notes -->
<g id="notes" fill="#111" font-size="6" stroke="#111" stroke-width="0.05">
<text x="1204.3" y="571.5" textLength="19.9" lengthAdjust="spacingAndGlyphs" font-weight="bold">Heizung</text><path d="M1204.3,572.8H1224.2" stroke="#1a1a1a" stroke-width="0.5"/>
<text x="1204.3" y="581.6" textLength="192.5" lengthAdjust="spacingAndGlyphs">Das Heizungsnetz wird mit vollentsalztem Wasser gemäß VDI 2035 betrieben.</text>
<text x="1204.3" y="595.6" textLength="209.3" lengthAdjust="spacingAndGlyphs">Alle Komponenten müssen für die Druckstufe PN 25 primär und PN16 sekundär</text>
<text x="1204.3" y="602.4" textLength="34.3" lengthAdjust="spacingAndGlyphs">geeignet sein.</text>
<text x="1204.3" y="614.5" textLength="32.7" lengthAdjust="spacingAndGlyphs">Rohrmaterial</text><path d="M1204.3,615.8H1237" stroke="#1a1a1a" stroke-width="0.5"/>
<text x="1204.3" y="623.75" textLength="39.6" lengthAdjust="spacingAndGlyphs">Hauptleitungen:</text>
<text x="1204.3" y="647.3" textLength="39.6" lengthAdjust="spacingAndGlyphs" font-weight="bold">Wärmedämmung</text><path d="M1204.3,648.5999999999999H1243.9" stroke="#1a1a1a" stroke-width="0.5"/>
<text x="1204.3" y="657.4" textLength="209.3" lengthAdjust="spacingAndGlyphs">Die Rohrleitungen Heizung werden mit alukaschierten Rohrschalen 100% gedämmt und</text>
<text x="1204.3" y="664.0" textLength="68.7" lengthAdjust="spacingAndGlyphs">erhalten einen Blechmantel.</text>
<text x="1204.3" y="678.2" textLength="209.3" lengthAdjust="spacingAndGlyphs">WICHTIG - Im Bereich aller Rollengleiter und Schienenkonstruktionen muss die</text>
<text x="1204.3" y="685.3" textLength="209.3" lengthAdjust="spacingAndGlyphs">Wärmedämmung mit Blechmantel kontaktfrei an den Befestigungen vorbeiführen.</text>
<text x="1204.3" y="692.3" textLength="209.3" lengthAdjust="spacingAndGlyphs">Bei Kollisionen muss die Wärmedämmung wegen der Längenausdehnung beidseitig</text>
<text x="1204.3" y="699.0" textLength="58.7" lengthAdjust="spacingAndGlyphs">5cm abgeflacht werden.</text>
<text x="1204.3" y="710.5" textLength="30.7" lengthAdjust="spacingAndGlyphs" font-weight="bold">Befestigung</text><path d="M1204.3,711.8H1235" stroke="#1a1a1a" stroke-width="0.5"/>
<text x="1204.3" y="720.6" textLength="209.3" lengthAdjust="spacingAndGlyphs">Die Befestigung der Rohrleitungen ist in den einzelnen Details dargestellt. Die</text>
<text x="1204.3" y="727.5" textLength="122.8" lengthAdjust="spacingAndGlyphs">Rollengleiter Heizung werden neutral eingestellt.</text>
<text x="1204.3" y="741.5" textLength="192.5" lengthAdjust="spacingAndGlyphs">Die Rohrleitungen Fernwärme primär werden mit Rohrschellen MP-MIS und bis</text>
<text x="1204.3" y="748.3" textLength="202.9" lengthAdjust="spacingAndGlyphs">DN 150 mit Gewindestangen M12 und ab DN 200 mit Gewindestangen M16 befestigt.</text>
<text x="1204.3" y="762.3" textLength="191.7" lengthAdjust="spacingAndGlyphs">Die Rohrleitungen Heizung sekundär werden mit Rohrschellen MP-MXI und bis</text>
<text x="1204.3" y="769.2" textLength="199.7" lengthAdjust="spacingAndGlyphs">DN 80 mit Gewindestangen M12 und ab DN 100 mit Gewindestangen M16 befestigt.</text>
<text x="1204.3" y="781.0" textLength="41.7" lengthAdjust="spacingAndGlyphs">Legende Heizung</text><path d="M1204.3,782.3H1246" stroke="#1a1a1a" stroke-width="0.5"/>
<text x="1255" y="623.75" textLength="105.8" lengthAdjust="spacingAndGlyphs">Gewinderohr geschweißt schwarz bis DN50</text>
<text x="1255" y="632" textLength="89.0" lengthAdjust="spacingAndGlyphs">Stahlrohr nahtlos schwarz ab DN65</text>
<path d="M1205,790.8H1252.7" stroke="#f08a9a" stroke-width="1"/>
<path d="M1205,799.4H1252.7" stroke="#22ccee" stroke-width="0.8" stroke-dasharray="5 3"/>
<text x="1255" y="792.7" textLength="39.6" lengthAdjust="spacingAndGlyphs">Heizung Vorlauf</text>
<text x="1255" y="801.2" textLength="42.0" lengthAdjust="spacingAndGlyphs">Heizung Rücklauf</text>
</g>
<!-- 80_title -->
<g id="title" font-size="4.2" fill="#000">
<g stroke="#444" stroke-width="0.55" fill="none">
<path d="M1205.5,808.6 V1007"/>
<path d="M1205.5,808.6H1420.3"/>
<path d="M1205.5,817.5H1420.3"/>
<path d="M1205.5,838.4H1420.3"/>
<path d="M1205.5,859.5H1420.3"/>
<path d="M1205.5,865.5H1420.3"/>
<path d="M1205.5,871.3H1420.3"/>
<path d="M1205.5,895.3H1420.3"/>
<path d="M1205.5,901.5H1420.3"/>
<path d="M1205.5,907.3H1420.3"/>
<path d="M1205.5,912.8H1420.3"/>
<path d="M1205.5,918.5H1420.3"/>
<path d="M1205.5,924.3H1420.3"/>
<path d="M1205.5,930.6H1420.3"/>
<path d="M1205.5,939.5H1309.7"/>
<path d="M1205.5,948.6H1420.3"/>
<path d="M1205.5,991.4H1420.3"/>
<path d="M1272.4,859.5V871.3M1322.2,859.5V871.3"/>
<path d="M1221.5,895.3V930.6M1252.5,895.3V930.6M1272.4,895.3V930.6"/>
<path d="M1252.5,930.6V948.6M1309.7,930.6V948.6"/>
</g>
<text x="1288.5" y="814.4" textLength="48.6" lengthAdjust="spacingAndGlyphs" font-weight="bold" font-size="7">Ausführungsplan</text>
<text x="1207.8" y="825.4" textLength="37.6" lengthAdjust="spacingAndGlyphs" font-weight="bold" font-size="7">Bauvorhaben:</text>
<text x="1207.8" y="846.2" textLength="24.3" lengthAdjust="spacingAndGlyphs" font-weight="bold" font-size="7">Bauherr:</text>
<text x="1208" y="863.6" textLength="13.0" lengthAdjust="spacingAndGlyphs">Geprüft:</text>
<text x="1235.3" y="863.6" textLength="16.7" lengthAdjust="spacingAndGlyphs">V. Schmid</text>
<text x="1275.2" y="863.6" textLength="11.3" lengthAdjust="spacingAndGlyphs">Datum:</text>
<text x="1292.8" y="863.6" textLength="18.0" lengthAdjust="spacingAndGlyphs">15.07.2022</text>
<text x="1326.1" y="863.6" textLength="27.4" lengthAdjust="spacingAndGlyphs">Sachbearbeiter:</text>
<text x="1362.2" y="863.6" textLength="22.8" lengthAdjust="spacingAndGlyphs">A. Säuberlich</text>
<text x="1208" y="869.5" textLength="16.5" lengthAdjust="spacingAndGlyphs">Gezeichnet:</text>
<text x="1235.3" y="869.5" textLength="22.7" lengthAdjust="spacingAndGlyphs">A. Säuberlich</text>
<text x="1275.2" y="869.5" textLength="11.3" lengthAdjust="spacingAndGlyphs">Datum:</text>
<text x="1292.8" y="869.5" textLength="17.2" lengthAdjust="spacingAndGlyphs">14.01.2022</text>
<text x="1326.1" y="869.5" textLength="9.4" lengthAdjust="spacingAndGlyphs">Datei:</text>
<text x="1343.8" y="869.5" textLength="37.7" lengthAdjust="spacingAndGlyphs">21-978-Zentrale.dwg</text>
<text x="1207.5" y="876.6" textLength="150.8" lengthAdjust="spacingAndGlyphs" font-weight="bold" font-size="4.3">Dieser Plan gilt nur in Verbindung mit den Ausführungsplänen des Architekturbüros.</text>
<text x="1207.5" y="881.6" textLength="103.5" lengthAdjust="spacingAndGlyphs" font-weight="bold" font-size="4.3">Grundsätzlich gilt nur der letzte freigegebene Planstand.</text>
<text x="1207.5" y="886.6" textLength="67.4" lengthAdjust="spacingAndGlyphs" font-weight="bold" font-size="4.3">Eine Prüfung hat vor Ort zu erfolgen.</text>
<text x="1207.5" y="891.7" textLength="128.5" lengthAdjust="spacingAndGlyphs" font-weight="bold" font-size="4.3">Bei Unstimmigkeiten ist die Bauleitung vor Arbeitsbeginn zu informieren.</text>
<text x="1208" y="899.6" textLength="7.5" lengthAdjust="spacingAndGlyphs">Index</text>
<text x="1225" y="899.6" textLength="11.0" lengthAdjust="spacingAndGlyphs">Datum</text>
<text x="1256" y="899.6" textLength="10.5" lengthAdjust="spacingAndGlyphs">Bearb.</text>
<text x="1275.2" y="899.6" textLength="16.8" lengthAdjust="spacingAndGlyphs">Änderung</text>
<text x="1208" y="937.6" textLength="23.0" lengthAdjust="spacingAndGlyphs" font-size="5.6">Maßstab:</text>
<text x="1208" y="946.6" textLength="21.5" lengthAdjust="spacingAndGlyphs" font-size="5.6">Plan-Nr.:</text>
<text x="1281" y="937.6" font-size="5.6" text-anchor="middle">1 : 10, 1 : 20</text>
<text x="1281" y="946.6" font-size="5.6" text-anchor="middle">- 12 -</text>
<text x="1326" y="943.6" textLength="55.8" lengthAdjust="spacingAndGlyphs" font-size="10.6">Nr.:  21/978</text>
<rect x="1311.2" y="948.6" width="4" height="42.8" fill="#f5d800"/>
<rect x="1315.2" y="948.6" width="105.1" height="42.8" fill="#7f7f7f"/>
<text x="1323" y="958.8" textLength="70.5" lengthAdjust="spacingAndGlyphs" font-weight="bold" font-size="3.9" fill="#fff">Donner Planung GmbH für Haustechnik</text>
<text x="1323" y="962.8" textLength="63.5" lengthAdjust="spacingAndGlyphs" font-size="3.9" fill="#f4f4f4">Schwalbenstraße 8  |  86150 Augsburg</text>
<text x="1323" y="969.4" textLength="35.5" lengthAdjust="spacingAndGlyphs" font-size="3.9" fill="#f4f4f4">Fon: 0821 34 30 14-0</text>
<text x="1323" y="974.5" textLength="37.0" lengthAdjust="spacingAndGlyphs" font-size="3.9" fill="#f4f4f4">Fax: 0821 34 30 14-20</text>
<text x="1323" y="979.6" textLength="48.0" lengthAdjust="spacingAndGlyphs" font-weight="bold" font-size="3.9" fill="#fff">info@haustechnik-donner.de</text>
<text x="1323" y="983.5" textLength="48.0" lengthAdjust="spacingAndGlyphs" font-weight="bold" font-size="3.9" fill="#f5d800">www.haustechnik-donner.de</text>
<circle cx="1403" cy="977.6" r="7.1" fill="#f4f4f4"/>
<path d="M1398.5,977.6H1407.5M1403,973.1V982.1" stroke="#5cb531" stroke-width="2.2"/>
<path d="M1222,984.6 C1222,966 1234,955.2 1251.5,955.2 C1260,955.2 1266,959 1269.7,964.2" fill="none" stroke="#111" stroke-width="1.3"/>
<path d="M1263.5,969.7 L1278.3,959.2 L1294.8,970.5" fill="none" stroke="#111" stroke-width="1.4"/>
<path d="M1290.9,968 V984.6 H1267.4 V981" fill="none" stroke="#111" stroke-width="1"/>
<rect x="1279.6" y="972.4" width="8.1" height="7.8" fill="#f7d700" stroke="#111" stroke-width="0.6"/>
<text x="1229" y="980.7" textLength="47.8" lengthAdjust="spacingAndGlyphs" font-weight="bold" font-size="11.6" fill="#000" stroke="#000" stroke-width="0.45">DONNER</text>
<text x="1235" y="969.5" textLength="27.0" lengthAdjust="spacingAndGlyphs" font-weight="bold" font-size="3.2" fill="#000">HAUSTECHNIK</text>
<text x="1208" y="997" textLength="25.0" lengthAdjust="spacingAndGlyphs" font-size="5.4">Planinhalt:</text>
<text x="1243.9" y="997" textLength="58.6" lengthAdjust="spacingAndGlyphs" font-size="5.4">Grundriss Zentrale R08</text>
<text x="1243.9" y="1004.2" textLength="33.1" lengthAdjust="spacingAndGlyphs" font-size="5.4">Druckhaltung</text>
<text x="1208" y="1011.5" textLength="30.0" lengthAdjust="spacingAndGlyphs" font-size="2.2" fill="#666">Druckhaltung.dwg / Druckhaltung</text>
</g>
</svg>
</body></html>
